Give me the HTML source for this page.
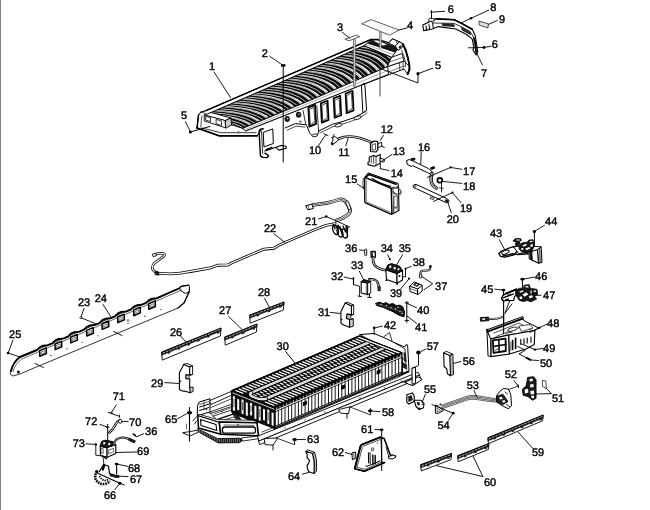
<!DOCTYPE html>
<html><head><meta charset="utf-8"><title>Battery assembly exploded view</title>
<style>
html,body{margin:0;padding:0;background:#fff;}
body{width:650px;height:510px;overflow:hidden;position:relative;}
svg{display:block;position:absolute;left:0;top:0;will-change:transform;}
svg text{font-family:"Liberation Sans",sans-serif;font-size:11px;fill:#000;text-anchor:middle;stroke:#000;stroke-width:0.4px;text-rendering:geometricPrecision;}
svg path,svg line,svg polyline{stroke-linecap:round;stroke-linejoin:round;}
</style></head><body>
<svg width="650" height="510" viewBox="0 0 650 510">
<rect x="0" y="0" width="650" height="510" fill="#fff"/>
<rect x="0" y="0" width="1" height="510" fill="#808080"/>
<!-- 10_cover.py -->
<path d="M198.5 115 L201 112 L206 110.6 L371 39.4 L377.6 39.4 L389 42.7 L392.6 38.9 L399.2 41.8 L403 44.1 L407.7 57.3 L409.6 66 L406.5 67.6 L366 83.2 L296 112 L262 129.5 L257.5 135.5 L219 135.8 L197 128 Z" fill="#fff" stroke="#000" stroke-width="1.1" />
<path d="M246 130.8 L366 83.2 L366.6 110.4 L362.4 113.4 L353 118 L342.9 121.4 L332.7 124.2 L318.8 131 L317.5 135 L312.4 135.8 L309.8 133.3 L306.4 124.8 L295.4 123.6 L285 128 L273.8 128.5 L262 129.6 Z" fill="#fff" stroke="none" stroke-width="1" />
<path d="M285 128 L295.4 123.6 L306.4 124.8 L309.8 133.3 L312.4 135.8 L317.5 135 L318.8 131 L332.7 124.2 L342.9 121.4 L353 118 L362.4 113.4 L366.6 110.4" fill="none" stroke="#000" stroke-width="1.0" />
<line x1="246" y1="130.8" x2="366" y2="83.2" stroke="#000" stroke-width="0.9" />
<path d="M363.5 77 L387.6 66.6 L404 61 L409.5 66.6 L407.7 74.2 L404 69 L366 83.2 Z" fill="#fff" stroke="#000" stroke-width="0.9" />
<line x1="366" y1="80.6" x2="405" y2="65.6" stroke="#000" stroke-width="0.5" />
<path d="M399.6 63.4 L399.8 70.4 M403 62 L403.2 69" fill="none" stroke="#000" stroke-width="0.7" />
<path d="M209.5 113.2 Q287 80 364.4 45.6 L391.7 57.3 L387.6 66.6 Q315.3 99 243 128.2 Z" fill="#0c0c0c" stroke="#000" stroke-width="0.8" />
<clipPath id="ribclip"><path d="M209.5 113.2 Q287 80 364.4 45.6 L391.7 57.3 L387.6 66.6 Q315.3 99 243 128.2 Z"/></clipPath><g clip-path="url(#ribclip)">
<path d="M186.8 122.9 Q219.8 124.4 232.7 132.4 L235.2 131.3 Q222.4 123.3 189.5 121.7 Z" fill="#fff" stroke="none" stroke-width="1" />
<path d="M188.2 122.3 Q221.1 123.8 233.9 131.8" fill="none" stroke="#333" stroke-width="0.45" />
<path d="M192.6 120.4 Q225.4 122 238.1 130.2" fill="none" stroke="#fff" stroke-width="0.75" />
<path d="M195.9 119 Q228.5 120.6 241.2 128.9 L243.7 127.9 Q231.1 119.5 198.6 117.8 Z" fill="#fff" stroke="none" stroke-width="1" />
<path d="M197.3 118.4 Q229.8 120 242.4 128.4" fill="none" stroke="#333" stroke-width="0.45" />
<path d="M201.7 116.5 Q234.1 118.2 246.6 126.7" fill="none" stroke="#fff" stroke-width="0.75" />
<path d="M205 115.1 Q237.2 116.8 249.7 125.5 L252.2 124.5 Q239.8 115.6 207.8 113.9 Z" fill="#fff" stroke="none" stroke-width="1" />
<path d="M206.4 114.5 Q238.5 116.2 251 125" fill="none" stroke="#333" stroke-width="0.45" />
<path d="M210.9 112.6 Q242.7 114.3 255.1 123.3" fill="none" stroke="#fff" stroke-width="0.75" />
<path d="M214.1 111.2 Q245.9 112.9 258.2 122 L260.7 121 Q248.5 111.8 216.9 110 Z" fill="#fff" stroke="none" stroke-width="1" />
<path d="M215.5 110.6 Q247.2 112.4 259.5 121.5" fill="none" stroke="#333" stroke-width="0.45" />
<path d="M220 108.7 Q251.4 110.5 263.6 119.8" fill="none" stroke="#fff" stroke-width="0.75" />
<path d="M223.3 107.3 Q254.5 109.1 266.7 118.5 L269.2 117.5 Q257.1 107.9 226 106.1 Z" fill="#fff" stroke="none" stroke-width="1" />
<path d="M224.6 106.7 Q255.8 108.5 268 118" fill="none" stroke="#333" stroke-width="0.45" />
<path d="M229.1 104.8 Q260.1 106.6 272.1 116.3" fill="none" stroke="#fff" stroke-width="0.75" />
<path d="M232.4 103.4 Q263.2 105.2 275.2 115 L277.7 114 Q265.8 104.1 235.1 102.2 Z" fill="#fff" stroke="none" stroke-width="1" />
<path d="M233.8 102.8 Q264.5 104.7 276.5 114.5" fill="none" stroke="#333" stroke-width="0.45" />
<path d="M238.2 100.9 Q268.8 102.8 280.6 112.8" fill="none" stroke="#fff" stroke-width="0.75" />
<path d="M241.5 99.4 Q271.9 101.4 283.7 111.5 L286.3 110.4 Q274.5 100.2 244.2 98.3 Z" fill="#fff" stroke="none" stroke-width="1" />
<path d="M242.9 98.8 Q273.2 100.8 285 111" fill="none" stroke="#333" stroke-width="0.45" />
<path d="M247.3 96.9 Q277.4 98.9 289.1 109.2" fill="none" stroke="#fff" stroke-width="0.75" />
<path d="M250.6 95.5 Q280.6 97.5 292.2 108 L294.8 106.9 Q283.2 96.3 253.3 94.3 Z" fill="#fff" stroke="none" stroke-width="1" />
<path d="M252 94.9 Q281.9 96.9 293.5 107.4" fill="none" stroke="#333" stroke-width="0.45" />
<path d="M256.4 93 Q286.1 95 297.7 105.7" fill="none" stroke="#fff" stroke-width="0.75" />
<path d="M259.7 91.6 Q289.2 93.6 300.7 104.4 L303.3 103.3 Q291.8 92.4 262.5 90.4 Z" fill="#fff" stroke="none" stroke-width="1" />
<path d="M261.1 91 Q290.5 93 302 103.8" fill="none" stroke="#333" stroke-width="0.45" />
<path d="M265.6 89 Q294.8 91.1 306.2 102.1" fill="none" stroke="#fff" stroke-width="0.75" />
<path d="M268.8 87.6 Q297.9 89.7 309.2 100.8 L311.8 99.7 Q300.5 88.5 271.6 86.4 Z" fill="#fff" stroke="none" stroke-width="1" />
<path d="M270.2 87 Q299.2 89.1 310.5 100.2" fill="none" stroke="#333" stroke-width="0.45" />
<path d="M274.7 85.1 Q303.5 87.2 314.7 98.5" fill="none" stroke="#fff" stroke-width="0.75" />
<path d="M278 83.6 Q306.6 85.8 317.7 97.2 L320.3 96.1 Q309.2 84.6 280.7 82.4 Z" fill="#fff" stroke="none" stroke-width="1" />
<path d="M279.3 83 Q307.9 85.2 319 96.6" fill="none" stroke="#333" stroke-width="0.45" />
<path d="M283.8 81.1 Q312.1 83.3 323.2 94.8" fill="none" stroke="#fff" stroke-width="0.75" />
<path d="M287.1 79.7 Q315.3 81.9 326.2 93.5 L328.8 92.4 Q317.9 80.7 289.8 78.5 Z" fill="#fff" stroke="none" stroke-width="1" />
<path d="M288.4 79.1 Q316.6 81.3 327.5 93" fill="none" stroke="#333" stroke-width="0.45" />
<path d="M292.9 77.1 Q320.8 79.4 331.7 91.2" fill="none" stroke="#fff" stroke-width="0.75" />
<path d="M296.2 75.7 Q323.9 77.9 334.7 89.9 L337.3 88.8 Q326.5 76.8 298.9 74.5 Z" fill="#fff" stroke="none" stroke-width="1" />
<path d="M297.5 75.1 Q325.2 77.4 336 89.3" fill="none" stroke="#333" stroke-width="0.45" />
<path d="M302 73.1 Q329.5 75.4 340.2 87.5" fill="none" stroke="#fff" stroke-width="0.75" />
<path d="M305.3 71.7 Q332.6 74 343.2 86.2 L345.8 85.1 Q335.2 72.8 308 70.5 Z" fill="#fff" stroke="none" stroke-width="1" />
<path d="M306.7 71.1 Q333.9 73.4 344.5 85.6" fill="none" stroke="#333" stroke-width="0.45" />
<path d="M311.1 69.1 Q338.2 71.5 348.7 83.8" fill="none" stroke="#fff" stroke-width="0.75" />
<path d="M314.4 67.7 Q341.3 70.1 351.7 82.5 L354.3 81.4 Q343.9 68.9 317.1 66.5 Z" fill="#fff" stroke="none" stroke-width="1" />
<path d="M315.8 67.1 Q342.6 69.5 353 81.9" fill="none" stroke="#333" stroke-width="0.45" />
<path d="M320.2 65.1 Q346.8 67.5 357.2 80.1" fill="none" stroke="#fff" stroke-width="0.75" />
<path d="M323.5 63.7 Q350 66.1 360.3 78.7 L362.8 77.6 Q352.6 64.9 326.2 62.5 Z" fill="#fff" stroke="none" stroke-width="1" />
<path d="M324.9 63.1 Q351.3 65.5 361.5 78.2" fill="none" stroke="#333" stroke-width="0.45" />
<path d="M329.3 61.1 Q355.5 63.6 365.7 76.3" fill="none" stroke="#fff" stroke-width="0.75" />
<path d="M332.6 59.7 Q358.6 62.1 368.8 75 L371.3 73.9 Q361.2 60.9 335.3 58.5 Z" fill="#fff" stroke="none" stroke-width="1" />
<path d="M334 59.1 Q359.9 61.5 370 74.4" fill="none" stroke="#333" stroke-width="0.45" />
<path d="M338.4 57.1 Q364.2 59.6 374.2 72.6" fill="none" stroke="#fff" stroke-width="0.75" />
<path d="M341.7 55.7 Q367.3 58.1 377.3 71.2 L379.8 70.1 Q369.9 56.9 344.5 54.4 Z" fill="#fff" stroke="none" stroke-width="1" />
<path d="M343.1 55 Q368.6 57.5 378.5 70.6" fill="none" stroke="#333" stroke-width="0.45" />
<path d="M347.6 53.1 Q372.9 55.6 382.7 68.8" fill="none" stroke="#fff" stroke-width="0.75" />
<path d="M350.8 51.6 Q376 54.1 385.8 67.4 L388.3 66.3 Q378.6 52.9 353.6 50.4 Z" fill="#fff" stroke="none" stroke-width="1" />
<path d="M352.2 51 Q377.3 53.5 387 66.8" fill="none" stroke="#333" stroke-width="0.45" />
<path d="M356.7 49 Q381.5 51.6 391.2 65" fill="none" stroke="#fff" stroke-width="0.75" />
<path d="M359.9 47.6 Q384.7 50.1 394.3 63.6 L396.8 62.5 Q387.3 48.9 362.7 46.4 Z" fill="#fff" stroke="none" stroke-width="1" />
<path d="M361.3 47 Q386 49.5 395.6 63" fill="none" stroke="#333" stroke-width="0.45" />
<path d="M365.8 45 Q390.2 47.6 399.7 61.1" fill="none" stroke="#fff" stroke-width="0.75" />
<path d="M369 43.5 Q393.3 46.1 402.8 59.8 L405.3 58.6 Q395.9 44.9 371.8 42.3 Z" fill="#fff" stroke="none" stroke-width="1" />
<path d="M370.4 42.9 Q394.6 45.5 404.1 59.2" fill="none" stroke="#333" stroke-width="0.45" />
<path d="M374.9 40.9 Q398.9 43.6 408.2 57.3" fill="none" stroke="#fff" stroke-width="0.75" />
<path d="M378.1 39.5 Q402 42.1 411.3 55.9 L413.8 54.7 Q404.6 40.9 380.9 38.3 Z" fill="#fff" stroke="none" stroke-width="1" />
<path d="M379.5 38.9 Q403.3 41.5 412.6 55.3" fill="none" stroke="#333" stroke-width="0.45" />
<path d="M384 36.9 Q407.6 39.5 416.7 53.4" fill="none" stroke="#fff" stroke-width="0.75" />
<path d="M387.3 35.4 Q410.7 38.1 419.8 52 L422.3 50.8 Q413.3 36.9 390 34.2 Z" fill="#fff" stroke="none" stroke-width="1" />
<path d="M388.6 34.8 Q412 37.5 421.1 51.4" fill="none" stroke="#333" stroke-width="0.45" />
<path d="M393.1 32.8 Q416.2 35.5 425.2 49.5" fill="none" stroke="#fff" stroke-width="0.75" />
</g>
<path d="M209.5 113.2 Q287 80 364.4 45.6 L391.7 57.3 L387.6 66.6 Q315.3 99 243 128.2 Z" fill="none" stroke="#000" stroke-width="0.8" />
<path d="M206 110.6 Q288.5 75.4 371 39.4" fill="none" stroke="#000" stroke-width="1.2" />
<path d="M391.7 57.3 L402 53.5 L404 61 L387.6 66.6 Z" fill="#fff" stroke="#000" stroke-width="0.9" />
<line x1="389.6" y1="62" x2="403" y2="57.2" stroke="#000" stroke-width="0.5" />
<path d="M371 39.6 L377.6 39.4 L398.4 48.2 L395.5 52.1 L368 43.2 Z" fill="#1a1a1a" stroke="#000" stroke-width="0.8" />
<path d="M373 40.6 L377.4 40.4 L387 44.4 L383 45.6 Z" fill="#fff" stroke="none" stroke-width="1" />
<path d="M368 43.2 L395.5 52.1 L391.7 57.3 L364.4 45.8 Z" fill="#fff" stroke="#000" stroke-width="1.0" />
<line x1="366.5" y1="44.8" x2="393.6" y2="54.8" stroke="#555" stroke-width="0.45" />
<path d="M388.9 42.7 L392.6 38.9 L399.2 41.8 L395.5 46 Z" fill="#fff" stroke="#000" stroke-width="0.9" />
<path d="M395.5 46 L399.2 41.8 L403 44.1 L402 47.9 L398.3 50.2 Z" fill="#fff" stroke="#000" stroke-width="0.9" />
<circle cx="396.6" cy="42.2" r="0.7" fill="#000" stroke="none" stroke-width="1"/>
<path d="M398.6 46.4 L401.6 45 L401.4 47.4 L398.8 48.8 Z" fill="#222" stroke="none" stroke-width="1" />
<path d="M403 44.1 Q406.4 50 407.7 57.3 Q409.6 64 409.6 69.5 L407.7 74.2" fill="none" stroke="#000" stroke-width="1.9" />
<path d="M401.6 50.4 Q404.4 56 405.4 62 L405.6 66.6" fill="none" stroke="#000" stroke-width="0.7" />
<path d="M243 128.2 Q315.3 99 387.6 66.6 L388.6 74.2 L246 130.8 Z" fill="#fff" stroke="#000" stroke-width="0.9" />
<line x1="245" y1="129.6" x2="388" y2="70.4" stroke="#444" stroke-width="0.45" />
<path d="M204.6 115 L211 112.5 L231 118 L225.4 120.6 Z" fill="#fff" stroke="#000" stroke-width="0.9" />
<path d="M204.6 115 L225.4 120.6 L226 128 L204.6 121 Z" fill="#fff" stroke="#000" stroke-width="0.9" />
<path d="M225.4 120.6 L231 118 L231.5 125 L226 128 Z" fill="#ccc" stroke="#000" stroke-width="0.9" />
<path d="M206 116.5 L210.5 117.7 L210.5 121.5 L206 120.2 Z" fill="#fff" stroke="#000" stroke-width="0.8" />
<path d="M216.5 119.5 L221.5 120.9 L221.5 125.5 L216.5 124 Z" fill="#fff" stroke="#000" stroke-width="0.8" />
<path d="M231.5 125 L243 128.3" fill="none" stroke="#000" stroke-width="0.8" />
<path d="M197 128 L219 135.8 L257.7 135.8 L262 129.6" fill="none" stroke="#000" stroke-width="1.7" />
<path d="M202 128 L220.8 132.7 L256 132.7" fill="none" stroke="#000" stroke-width="0.8" />
<line x1="198.5" y1="115" x2="197" y2="128" stroke="#000" stroke-width="1.4" />
<line x1="201.8" y1="116" x2="200.8" y2="127" stroke="#000" stroke-width="0.7" />
<path d="M201 112 L205.5 113.5" fill="none" stroke="#000" stroke-width="0.7" />
<circle cx="238.5" cy="132.3" r="0.9" fill="#fff" stroke="#000" stroke-width="0.6"/>
<path d="M287 130.2 L296 126.2 L305 127.2" fill="none" stroke="#000" stroke-width="0.7" />
<path d="M320 133 L333 126.6 L343.4 123.8 L353.6 120.4 L363.4 115.6 L367 112.6" fill="none" stroke="#000" stroke-width="0.7" />
<path d="M308.3 107.6 L315.1 104.9 L316.1 123.9 L309.3 126.6 Z" fill="#fff" stroke="#000" stroke-width="1.7" />
<path d="M309.8 109.4 L313.9 107.2 L314.9 121.9 L310.6 124.6 Z" fill="none" stroke="#000" stroke-width="0.7" />
<path d="M320.8 103.4 L327.6 100.7 L328.6 119.9 L321.8 122.6 Z" fill="#fff" stroke="#000" stroke-width="1.7" />
<path d="M322.3 105.2 L326.4 103 L327.4 117.9 L323.1 120.6 Z" fill="none" stroke="#000" stroke-width="0.7" />
<path d="M333.6 98.4 L340.2 95.8 L341.2 115.2 L334.6 117.8 Z" fill="#fff" stroke="#000" stroke-width="1.7" />
<path d="M335.1 100.2 L339 98 L340 113.2 L335.9 115.8 Z" fill="none" stroke="#000" stroke-width="0.7" />
<path d="M345.6 93.6 L352.6 90.8 L353.6 110.4 L346.6 113.2 Z" fill="#fff" stroke="#000" stroke-width="1.7" />
<path d="M347.1 95.4 L351.4 93.1 L352.4 108.4 L347.9 111.2 Z" fill="none" stroke="#000" stroke-width="0.7" />
<line x1="303" y1="110.5" x2="305.8" y2="124.5" stroke="#000" stroke-width="0.8" />
<line x1="316.8" y1="106" x2="318.6" y2="131" stroke="#000" stroke-width="0.8" />
<ellipse cx="287.2" cy="119" rx="2.7" ry="3" fill="#1a1a1a"/><ellipse cx="287.6" cy="118.6" rx="0.7" ry="0.8" fill="#ddd"/>
<ellipse cx="298.6" cy="114.7" rx="2.7" ry="3" fill="#1a1a1a"/><ellipse cx="299" cy="114.3" rx="0.7" ry="0.8" fill="#ddd"/>
<circle cx="300.4" cy="121.6" r="0.8" fill="#fff" stroke="#000" stroke-width="0.6"/>
<path d="M361.8 85.2 L364.8 84 L366.6 110.4 L363.2 112.6 Z" fill="#fff" stroke="#000" stroke-width="1.0" />
<circle cx="364" cy="83.8" r="1.1" fill="#000" stroke="none" stroke-width="1"/>
<ellipse cx="338.6" cy="125.2" rx="3.6" ry="1.5" fill="#fff" stroke="#000" stroke-width="0.8" transform="rotate(-14 338.6 125.2)"/>
<ellipse cx="314.8" cy="135.4" rx="2.8" ry="1.3" fill="#fff" stroke="#000" stroke-width="0.8" transform="rotate(-8 314.8 135.4)"/>
<ellipse cx="357.6" cy="117.8" rx="3.8" ry="1.5" fill="#fff" stroke="#000" stroke-width="0.8" transform="rotate(-18 357.6 117.8)"/>
<path d="M257.7 135.8 L260 155 L262 157.5 L266.5 158 L268.5 155.4 L264.8 151 L276 147.3 L278.9 150.1 L286.4 148.2 L285.4 129 L262 129.6 Z" fill="#fff" stroke="none" stroke-width="1" />
<path d="M263.2 128.8 Q259.6 128.8 259.1 131.4 L260.4 155.6 L262.6 157.4 L267.1 157.6 L268.6 155.5 L264.9 153.2" fill="none" stroke="#000" stroke-width="1.4" />
<path d="M261.5 131.4 L262.7 153.6" fill="none" stroke="#000" stroke-width="0.8" />
<path d="M264.8 151 L276 147.3 L278.9 150.1 L286.4 148.2 L286 146.2 L281 145.4 L276 147.3" fill="none" stroke="#000" stroke-width="1.1" />
<path d="M263.6 132.3 L272.8 128.9 L273.3 143.5 L264.3 146.8 Z" fill="#fff" stroke="#000" stroke-width="1.0" />
<path d="M266.2 150 L268.4 148.6 M269.4 148.9 L271.8 147.4" fill="none" stroke="#000" stroke-width="1.6" />
<!-- 29_tray.py -->
<path d="M197.7 405 L199.2 402 L210 398.8 L210 412 L197.7 415.5 Z" fill="#fff" stroke="#000" stroke-width="1.0" />
<line x1="199.5" y1="404.5" x2="208.5" y2="401.8" stroke="#000" stroke-width="0.6" />
<line x1="204" y1="401" x2="204" y2="410" stroke="#000" stroke-width="0.6" />
<path d="M210 400.5 L231 391.5 L232 395 L211 404.5 Z" fill="#fff" stroke="#000" stroke-width="0.9" />
<line x1="211" y1="407.5" x2="232" y2="398.5" stroke="#000" stroke-width="0.7" />
<path d="M210 412 L232 404 L232 413 L258 423 L219 422.2 Z" fill="#fff" stroke="#000" stroke-width="0.8" />
<line x1="214" y1="414" x2="232" y2="407.5" stroke="#000" stroke-width="0.6" />
<path d="M210 413.6 L232.3 406.2 M213 416.2 L233 409.6" fill="none" stroke="#000" stroke-width="0.8" />
<path d="M217.5 419.4 L236 413.2 L246 417.4" fill="none" stroke="#000" stroke-width="1.3" />
<path d="M222 420.6 L238.5 415.6 L252 421" fill="none" stroke="#000" stroke-width="0.7" />
<path d="M232.4 412.6 L238 415 L241 419.6 L236 419.4 Z" fill="#222" stroke="#000" stroke-width="0.6" />
<path d="M246 417.6 L252 420 L256 422.4 L249 422 Z" fill="#222" stroke="#000" stroke-width="0.6" />
<path d="M199.6 407 L208.6 404.2 M199.6 410.5 L208.6 407.6" fill="none" stroke="#000" stroke-width="1.0" />
<circle cx="206.5" cy="409.5" r="0.7" fill="#000" stroke="none" stroke-width="1"/>
<circle cx="222" cy="411.5" r="0.7" fill="#000" stroke="none" stroke-width="1"/>
<circle cx="226.5" cy="416.5" r="0.7" fill="#000" stroke="none" stroke-width="1"/>
<path d="M197.7 415.2 L219.2 422 L220.8 434.2 L198.5 428 Z" fill="#fff" stroke="#000" stroke-width="1.5" />
<path d="M200.5 419.5 L216 424.6 L216.8 430.5 L201 425.5 Z" fill="none" stroke="#000" stroke-width="1.1" />
<path d="M197.7 415.2 L200 414.5 L217.5 419.6 L256 420.3 L257 422.7 L219.2 422 Z" fill="#fff" stroke="#000" stroke-width="0.8" />
<path d="M219.2 422 L257 422.7 L258.5 435.8 L220.8 434.2 Z" fill="#fff" stroke="#000" stroke-width="1.6" />
<rect x="222.5" y="427" width="33" height="6.2" rx="2.2" fill="#fff" stroke="#000" stroke-width="1.3"/>
<line x1="224" y1="425" x2="254" y2="425.4" stroke="#000" stroke-width="0.6" />
<circle cx="238" cy="424.8" r="0.7" fill="#000" stroke="none" stroke-width="1"/>
<path d="M197.7 428.8 L217.7 438.6 L240 438.2 L242.3 440 L240 442.7 L218.3 442.9 L199.2 432.4 Z" fill="#1a1a1a" stroke="#000" stroke-width="0.8" />
<line x1="199.5" y1="429.4" x2="199.5" y2="432.2" stroke="#bbb" stroke-width="0.5" />
<line x1="201.2" y1="430.3" x2="201.2" y2="433.1" stroke="#bbb" stroke-width="0.5" />
<line x1="202.8" y1="431.1" x2="202.8" y2="433.9" stroke="#bbb" stroke-width="0.5" />
<line x1="204.5" y1="432" x2="204.5" y2="434.8" stroke="#bbb" stroke-width="0.5" />
<line x1="206.2" y1="432.8" x2="206.2" y2="435.6" stroke="#bbb" stroke-width="0.5" />
<line x1="207.8" y1="433.7" x2="207.8" y2="436.5" stroke="#bbb" stroke-width="0.5" />
<line x1="209.5" y1="434.5" x2="209.5" y2="437.3" stroke="#bbb" stroke-width="0.5" />
<line x1="211.1" y1="435.4" x2="211.1" y2="438.2" stroke="#bbb" stroke-width="0.5" />
<line x1="212.8" y1="436.2" x2="212.8" y2="439" stroke="#bbb" stroke-width="0.5" />
<line x1="214.5" y1="437.1" x2="214.5" y2="439.9" stroke="#bbb" stroke-width="0.5" />
<line x1="216.1" y1="437.9" x2="216.1" y2="440.7" stroke="#bbb" stroke-width="0.5" />
<line x1="217.8" y1="438.8" x2="217.8" y2="441.6" stroke="#bbb" stroke-width="0.5" />
<line x1="219.5" y1="439.4" x2="219.5" y2="442" stroke="#bbb" stroke-width="0.5" />
<line x1="221.5" y1="439.4" x2="221.5" y2="442" stroke="#bbb" stroke-width="0.5" />
<line x1="223.5" y1="439.4" x2="223.5" y2="442" stroke="#bbb" stroke-width="0.5" />
<line x1="225.5" y1="439.4" x2="225.5" y2="442" stroke="#bbb" stroke-width="0.5" />
<line x1="227.5" y1="439.4" x2="227.5" y2="442" stroke="#bbb" stroke-width="0.5" />
<line x1="229.5" y1="439.4" x2="229.5" y2="442" stroke="#bbb" stroke-width="0.5" />
<line x1="231.5" y1="439.4" x2="231.5" y2="442" stroke="#bbb" stroke-width="0.5" />
<line x1="233.5" y1="439.4" x2="233.5" y2="442" stroke="#bbb" stroke-width="0.5" />
<line x1="235.5" y1="439.4" x2="235.5" y2="442" stroke="#bbb" stroke-width="0.5" />
<line x1="237.5" y1="439.4" x2="237.5" y2="442" stroke="#bbb" stroke-width="0.5" />
<line x1="239.5" y1="439.4" x2="239.5" y2="442" stroke="#bbb" stroke-width="0.5" />
<path d="M241.5 438 L258.5 436 L260 438.5 L243 441 Z" fill="#fff" stroke="#000" stroke-width="0.8" />
<path d="M183 432.7 L197 430.3 L198.5 432 L190.5 435.8 Z" fill="#fff" stroke="#000" stroke-width="0.9" />
<line x1="189.5" y1="407.5" x2="189.5" y2="441" stroke="#000" stroke-width="1.1" />
<ellipse cx="189.5" cy="412.8" rx="2.7" ry="1.7" fill="#000"/>
<line x1="177.5" y1="418.8" x2="186.5" y2="413.8" stroke="#000" stroke-width="0.9" />
<line x1="186.5" y1="424" x2="186.5" y2="429" stroke="#000" stroke-width="0.6" />
<path d="M193 421 Q195.5 416.5 198 416 M194.5 424 Q196.5 420 198.5 419.5" fill="none" stroke="#000" stroke-width="0.8" />
<path d="M258 436 L418 372.2 L419.5 375 L259 441 Z" fill="#fff" stroke="#000" stroke-width="0.9" />
<path d="M259 441 L419.5 375 L420.5 378 L260 444.5 Z" fill="#fff" stroke="#000" stroke-width="0.9" />
<line x1="262" y1="432" x2="400" y2="376.5" stroke="#000" stroke-width="0.7" />
<circle cx="285" cy="427.8" r="0.6" fill="#000" stroke="none" stroke-width="1"/>
<circle cx="305" cy="419.8" r="0.6" fill="#000" stroke="none" stroke-width="1"/>
<circle cx="325" cy="411.9" r="0.6" fill="#000" stroke="none" stroke-width="1"/>
<circle cx="360" cy="397.9" r="0.6" fill="#000" stroke="none" stroke-width="1"/>
<circle cx="385" cy="387.9" r="0.6" fill="#000" stroke="none" stroke-width="1"/>
<path d="M264.6 438.5 L277.7 438 L273 445.2 L265.4 444.6 Z" fill="#fff" stroke="#000" stroke-width="0.9" />
<line x1="273" y1="445" x2="273" y2="450" stroke="#000" stroke-width="0.9" />
<path d="M339 409.5 L350 406.8 L348.5 413.8 L340.8 413.2 Z" fill="#fff" stroke="#000" stroke-width="0.9" />
<line x1="347" y1="413.5" x2="347" y2="418.5" stroke="#000" stroke-width="0.9" />
<line x1="277.7" y1="438.5" x2="294" y2="444.5" stroke="#000" stroke-width="0.8" />
<line x1="294.6" y1="438.5" x2="294.6" y2="444.5" stroke="#000" stroke-width="0.9" />
<ellipse cx="294.6" cy="439.6" rx="2.4" ry="1.5" fill="#000"/>
<line x1="297.5" y1="439.6" x2="305.5" y2="439.4" stroke="#000" stroke-width="0.9" />
<line x1="350" y1="407" x2="369.5" y2="414.5" stroke="#000" stroke-width="0.8" />
<line x1="370.3" y1="408.5" x2="370.3" y2="415" stroke="#000" stroke-width="0.9" />
<ellipse cx="370.3" cy="410.8" rx="2.4" ry="1.5" fill="#000"/>
<line x1="373" y1="411.2" x2="380" y2="411.6" stroke="#000" stroke-width="0.9" />
<path d="M360 334.6 L373.8 333.4 L386 338.5 L393 342 L404.6 347 L406 344.6 L407.6 345 L409 370.8 L401 374 L399 356 Z" fill="#fff" stroke="#000" stroke-width="1.0" />
<path d="M384 336.5 L389.5 332.5 L392 341 M395 343 L405 349 L406 366" fill="none" stroke="#000" stroke-width="0.8" />
<path d="M400 357 L406.5 361 M402 366 L407 369.5" fill="none" stroke="#000" stroke-width="0.7" />
<path d="M403.5 352 L406 353 L406.5 362 L404 361.5 Z" fill="#222" stroke="none" stroke-width="1" />
<path d="M401.6 357.5 L402.4 373" fill="none" stroke="#000" stroke-width="1.5" />
<path d="M402.6 362.5 L406.6 364.8 L406.8 369 L403 367 Z" fill="#222" stroke="#000" stroke-width="0.5" />
<path d="M400.6 375 L408.6 371.4" fill="none" stroke="#000" stroke-width="1.2" />
<path d="M405.5 381.8 L418.5 376.9 L422.2 379.4 L412.9 385.6 L409 384.4 Z" fill="#fff" stroke="#000" stroke-width="1.0" />
<path d="M412.3 368 L415.4 367 L415.6 383 L412.5 384.3 Z" fill="#fff" stroke="#000" stroke-width="1.0" />
<line x1="399" y1="376.5" x2="409" y2="372" stroke="#000" stroke-width="0.8" />
<line x1="401" y1="381" x2="407" y2="383.5" stroke="#000" stroke-width="0.8" />
<ellipse cx="418.5" cy="352.6" rx="2.3" ry="2" fill="#000"/>
<path d="M418.5 354 L418.5 365.5 L412.5 368.3" fill="none" stroke="#000" stroke-width="0.9" />
<line x1="421.3" y1="351.3" x2="426" y2="349" stroke="#000" stroke-width="0.9" />
<circle cx="374.2" cy="328" r="1.4" fill="#000" stroke="none" stroke-width="1"/>
<line x1="374.2" y1="328" x2="374.2" y2="334.6" stroke="#000" stroke-width="0.9" />
<line x1="375.8" y1="327.6" x2="382.3" y2="326.2" stroke="#000" stroke-width="0.9" />
<!-- 30_battery.py -->
<path d="M275 407.3 L402 352.8 L402 374.3 L275 428.8 Z" fill="#fff" stroke="#000" stroke-width="1.0" />
<path d="M275 407.3 L402 352.8 L402 355.8 L275 410.3 Z" fill="#0d0d0d" stroke="none" stroke-width="1" />
<line x1="275" y1="411.9" x2="275" y2="426.3" stroke="#000" stroke-width="0.9" />
<line x1="278.3" y1="410.5" x2="278.3" y2="424.9" stroke="#000" stroke-width="0.9" />
<line x1="281.7" y1="409" x2="281.7" y2="423.4" stroke="#000" stroke-width="0.9" />
<line x1="285" y1="407.6" x2="285" y2="422" stroke="#000" stroke-width="0.9" />
<line x1="288.4" y1="406.2" x2="288.4" y2="420.6" stroke="#000" stroke-width="0.9" />
<line x1="291.7" y1="404.7" x2="291.7" y2="419.1" stroke="#000" stroke-width="0.9" />
<line x1="295.1" y1="403.3" x2="295.1" y2="417.7" stroke="#000" stroke-width="0.9" />
<line x1="298.4" y1="401.9" x2="298.4" y2="416.3" stroke="#000" stroke-width="0.9" />
<line x1="301.7" y1="400.4" x2="301.7" y2="414.8" stroke="#000" stroke-width="0.9" />
<line x1="305.1" y1="399" x2="305.1" y2="413.4" stroke="#000" stroke-width="0.9" />
<line x1="308.4" y1="397.6" x2="308.4" y2="412" stroke="#000" stroke-width="0.9" />
<line x1="311.8" y1="396.1" x2="311.8" y2="410.5" stroke="#000" stroke-width="0.9" />
<line x1="315.1" y1="394.7" x2="315.1" y2="409.1" stroke="#000" stroke-width="0.9" />
<line x1="318.4" y1="393.3" x2="318.4" y2="407.7" stroke="#000" stroke-width="0.9" />
<line x1="321.8" y1="391.8" x2="321.8" y2="406.2" stroke="#000" stroke-width="0.9" />
<line x1="325.1" y1="390.4" x2="325.1" y2="404.8" stroke="#000" stroke-width="0.9" />
<line x1="328.5" y1="389" x2="328.5" y2="403.4" stroke="#000" stroke-width="0.9" />
<line x1="331.8" y1="387.5" x2="331.8" y2="401.9" stroke="#000" stroke-width="0.9" />
<line x1="335.2" y1="386.1" x2="335.2" y2="400.5" stroke="#000" stroke-width="0.9" />
<line x1="338.5" y1="384.7" x2="338.5" y2="399.1" stroke="#000" stroke-width="0.9" />
<line x1="341.8" y1="383.2" x2="341.8" y2="397.6" stroke="#000" stroke-width="0.9" />
<line x1="345.2" y1="381.8" x2="345.2" y2="396.2" stroke="#000" stroke-width="0.9" />
<line x1="348.5" y1="380.3" x2="348.5" y2="394.7" stroke="#000" stroke-width="0.9" />
<line x1="351.9" y1="378.9" x2="351.9" y2="393.3" stroke="#000" stroke-width="0.9" />
<line x1="355.2" y1="377.5" x2="355.2" y2="391.9" stroke="#000" stroke-width="0.9" />
<line x1="358.6" y1="376" x2="358.6" y2="390.4" stroke="#000" stroke-width="0.9" />
<line x1="361.9" y1="374.6" x2="361.9" y2="389" stroke="#000" stroke-width="0.9" />
<line x1="365.2" y1="373.2" x2="365.2" y2="387.6" stroke="#000" stroke-width="0.9" />
<line x1="368.6" y1="371.7" x2="368.6" y2="386.1" stroke="#000" stroke-width="0.9" />
<line x1="371.9" y1="370.3" x2="371.9" y2="384.7" stroke="#000" stroke-width="0.9" />
<line x1="375.3" y1="368.9" x2="375.3" y2="383.3" stroke="#000" stroke-width="0.9" />
<line x1="378.6" y1="367.4" x2="378.6" y2="381.8" stroke="#000" stroke-width="0.9" />
<line x1="381.9" y1="366" x2="381.9" y2="380.4" stroke="#000" stroke-width="0.9" />
<line x1="385.3" y1="364.6" x2="385.3" y2="379" stroke="#000" stroke-width="0.9" />
<line x1="388.6" y1="363.1" x2="388.6" y2="377.5" stroke="#000" stroke-width="0.9" />
<line x1="392" y1="361.7" x2="392" y2="376.1" stroke="#000" stroke-width="0.9" />
<line x1="395.3" y1="360.3" x2="395.3" y2="374.7" stroke="#000" stroke-width="0.9" />
<line x1="398.7" y1="358.8" x2="398.7" y2="373.2" stroke="#000" stroke-width="0.9" />
<line x1="402" y1="357.4" x2="402" y2="371.8" stroke="#000" stroke-width="0.9" />
<line x1="276.7" y1="407.5" x2="276.7" y2="408.9" stroke="#fff" stroke-width="0.7" />
<line x1="280" y1="406" x2="280" y2="407.4" stroke="#fff" stroke-width="0.7" />
<line x1="283.4" y1="404.6" x2="283.4" y2="406" stroke="#fff" stroke-width="0.7" />
<line x1="286.7" y1="403.2" x2="286.7" y2="404.6" stroke="#fff" stroke-width="0.7" />
<line x1="290" y1="401.7" x2="290" y2="403.1" stroke="#fff" stroke-width="0.7" />
<line x1="293.4" y1="400.3" x2="293.4" y2="401.7" stroke="#fff" stroke-width="0.7" />
<line x1="296.7" y1="398.9" x2="296.7" y2="400.3" stroke="#fff" stroke-width="0.7" />
<line x1="300.1" y1="397.4" x2="300.1" y2="398.8" stroke="#fff" stroke-width="0.7" />
<line x1="303.4" y1="396" x2="303.4" y2="397.4" stroke="#fff" stroke-width="0.7" />
<line x1="306.8" y1="394.6" x2="306.8" y2="396" stroke="#fff" stroke-width="0.7" />
<line x1="310.1" y1="393.1" x2="310.1" y2="394.5" stroke="#fff" stroke-width="0.7" />
<line x1="313.4" y1="391.7" x2="313.4" y2="393.1" stroke="#fff" stroke-width="0.7" />
<line x1="316.8" y1="390.3" x2="316.8" y2="391.7" stroke="#fff" stroke-width="0.7" />
<line x1="320.1" y1="388.8" x2="320.1" y2="390.2" stroke="#fff" stroke-width="0.7" />
<line x1="323.5" y1="387.4" x2="323.5" y2="388.8" stroke="#fff" stroke-width="0.7" />
<line x1="326.8" y1="386" x2="326.8" y2="387.4" stroke="#fff" stroke-width="0.7" />
<line x1="330.1" y1="384.5" x2="330.1" y2="385.9" stroke="#fff" stroke-width="0.7" />
<line x1="333.5" y1="383.1" x2="333.5" y2="384.5" stroke="#fff" stroke-width="0.7" />
<line x1="336.8" y1="381.7" x2="336.8" y2="383.1" stroke="#fff" stroke-width="0.7" />
<line x1="340.2" y1="380.2" x2="340.2" y2="381.6" stroke="#fff" stroke-width="0.7" />
<line x1="343.5" y1="378.8" x2="343.5" y2="380.2" stroke="#fff" stroke-width="0.7" />
<line x1="346.9" y1="377.4" x2="346.9" y2="378.8" stroke="#fff" stroke-width="0.7" />
<line x1="350.2" y1="375.9" x2="350.2" y2="377.3" stroke="#fff" stroke-width="0.7" />
<line x1="353.5" y1="374.5" x2="353.5" y2="375.9" stroke="#fff" stroke-width="0.7" />
<line x1="356.9" y1="373.1" x2="356.9" y2="374.5" stroke="#fff" stroke-width="0.7" />
<line x1="360.2" y1="371.6" x2="360.2" y2="373" stroke="#fff" stroke-width="0.7" />
<line x1="363.6" y1="370.2" x2="363.6" y2="371.6" stroke="#fff" stroke-width="0.7" />
<line x1="366.9" y1="368.8" x2="366.9" y2="370.2" stroke="#fff" stroke-width="0.7" />
<line x1="370.2" y1="367.3" x2="370.2" y2="368.7" stroke="#fff" stroke-width="0.7" />
<line x1="373.6" y1="365.9" x2="373.6" y2="367.3" stroke="#fff" stroke-width="0.7" />
<line x1="376.9" y1="364.5" x2="376.9" y2="365.9" stroke="#fff" stroke-width="0.7" />
<line x1="380.3" y1="363" x2="380.3" y2="364.4" stroke="#fff" stroke-width="0.7" />
<line x1="383.6" y1="361.6" x2="383.6" y2="363" stroke="#fff" stroke-width="0.7" />
<line x1="387" y1="360.2" x2="387" y2="361.6" stroke="#fff" stroke-width="0.7" />
<line x1="390.3" y1="358.7" x2="390.3" y2="360.1" stroke="#fff" stroke-width="0.7" />
<line x1="393.6" y1="357.3" x2="393.6" y2="358.7" stroke="#fff" stroke-width="0.7" />
<line x1="397" y1="355.9" x2="397" y2="357.3" stroke="#fff" stroke-width="0.7" />
<line x1="400.3" y1="354.4" x2="400.3" y2="355.8" stroke="#fff" stroke-width="0.7" />
<line x1="275" y1="411.8" x2="402" y2="357.3" stroke="#000" stroke-width="0.8" />
<line x1="275" y1="426.3" x2="402" y2="371.8" stroke="#000" stroke-width="0.9" />
<line x1="275" y1="427.8" x2="402" y2="373.3" stroke="#000" stroke-width="1.2" />
<path d="M302.9 402.3 L306.9 400.6 L306.9 404.6 L302.9 406.3 Z" fill="#000" stroke="none" stroke-width="1" />
<path d="M341 386 L345 384.3 L345 388.3 L341 390 Z" fill="#000" stroke="none" stroke-width="1" />
<path d="M376.6 370.7 L380.6 369 L380.6 373 L376.6 374.7 Z" fill="#000" stroke="none" stroke-width="1" />
<path d="M232 390.5 L275 407.3 L275 428.8 L232 412 Z" fill="#0d0d0d" stroke="#000" stroke-width="1.0" />
<line x1="232.9" y1="393" x2="274.1" y2="409.2" stroke="#fff" stroke-width="0.8" />
<path d="M232.9 395.9 L234.9 396.6 L234.9 410.9 L232.9 410.2 Z" fill="#fff" stroke="none" stroke-width="1" />
<line x1="233.9" y1="399.3" x2="233.9" y2="406.6" stroke="#000" stroke-width="0.6" />
<path d="M237.2 398.7 L239.2 399.5 L239.2 410.6 L237.2 409.8 Z" fill="#fff" stroke="none" stroke-width="1" />
<path d="M241.5 399.2 L243.5 400 L243.5 414.3 L241.5 413.5 Z" fill="#fff" stroke="none" stroke-width="1" />
<line x1="242.5" y1="402.6" x2="242.5" y2="409.9" stroke="#000" stroke-width="0.6" />
<path d="M245.8 402.1 L247.8 402.9 L247.8 416 L245.8 415.2 Z" fill="#fff" stroke="none" stroke-width="1" />
<path d="M250.1 402.6 L252.1 403.4 L252.1 415.7 L250.1 414.9 Z" fill="#fff" stroke="none" stroke-width="1" />
<line x1="251.1" y1="406" x2="251.1" y2="411.3" stroke="#000" stroke-width="0.6" />
<path d="M254.4 405.5 L256.4 406.2 L256.4 419.3 L254.4 418.6 Z" fill="#fff" stroke="none" stroke-width="1" />
<path d="M258.7 405.9 L260.7 406.7 L260.7 421 L258.7 420.2 Z" fill="#fff" stroke="none" stroke-width="1" />
<line x1="259.7" y1="409.3" x2="259.7" y2="416.6" stroke="#000" stroke-width="0.6" />
<path d="M263 408.8 L265 409.6 L265 420.7 L263 419.9 Z" fill="#fff" stroke="none" stroke-width="1" />
<path d="M267.3 409.3 L269.3 410.1 L269.3 424.4 L267.3 423.6 Z" fill="#fff" stroke="none" stroke-width="1" />
<line x1="268.3" y1="412.7" x2="268.3" y2="420" stroke="#000" stroke-width="0.6" />
<path d="M271.6 412.2 L273.6 413 L273.6 426.1 L271.6 425.3 Z" fill="#fff" stroke="none" stroke-width="1" />
<path d="M232 390.5 L359 336 L402 352.8 L275 407.3 Z" fill="#0d0d0d" stroke="#000" stroke-width="1.0" />
<line x1="235.8" y1="390.6" x2="242.9" y2="393.4" stroke="#fff" stroke-width="1.25" />
<line x1="239.2" y1="389.2" x2="246.3" y2="392" stroke="#fff" stroke-width="1.25" />
<line x1="242.5" y1="387.8" x2="249.6" y2="390.5" stroke="#fff" stroke-width="1.25" />
<line x1="245.8" y1="386.3" x2="252.9" y2="389.1" stroke="#fff" stroke-width="1.25" />
<line x1="249.2" y1="384.9" x2="256.3" y2="387.7" stroke="#fff" stroke-width="1.25" />
<line x1="252.5" y1="383.5" x2="259.6" y2="386.2" stroke="#fff" stroke-width="1.25" />
<line x1="255.9" y1="382" x2="263" y2="384.8" stroke="#fff" stroke-width="1.25" />
<line x1="259.2" y1="380.6" x2="266.3" y2="383.4" stroke="#fff" stroke-width="1.25" />
<line x1="262.6" y1="379.1" x2="269.7" y2="381.9" stroke="#fff" stroke-width="1.25" />
<line x1="265.9" y1="377.7" x2="273" y2="380.5" stroke="#fff" stroke-width="1.25" />
<line x1="269.2" y1="376.3" x2="276.3" y2="379.1" stroke="#fff" stroke-width="1.25" />
<line x1="272.6" y1="374.8" x2="279.7" y2="377.6" stroke="#fff" stroke-width="1.25" />
<line x1="275.9" y1="373.4" x2="283" y2="376.2" stroke="#fff" stroke-width="1.25" />
<line x1="279.3" y1="372" x2="286.4" y2="374.8" stroke="#fff" stroke-width="1.25" />
<line x1="282.6" y1="370.5" x2="289.7" y2="373.3" stroke="#fff" stroke-width="1.25" />
<line x1="286" y1="369.1" x2="293" y2="371.9" stroke="#fff" stroke-width="1.25" />
<line x1="289.3" y1="367.7" x2="296.4" y2="370.4" stroke="#fff" stroke-width="1.25" />
<line x1="292.6" y1="366.2" x2="299.7" y2="369" stroke="#fff" stroke-width="1.25" />
<line x1="296" y1="364.8" x2="303.1" y2="367.6" stroke="#fff" stroke-width="1.25" />
<line x1="299.3" y1="363.4" x2="306.4" y2="366.1" stroke="#fff" stroke-width="1.25" />
<line x1="302.7" y1="361.9" x2="309.8" y2="364.7" stroke="#fff" stroke-width="1.25" />
<line x1="306" y1="360.5" x2="313.1" y2="363.3" stroke="#fff" stroke-width="1.25" />
<line x1="309.3" y1="359.1" x2="316.4" y2="361.8" stroke="#fff" stroke-width="1.25" />
<line x1="312.7" y1="357.6" x2="319.8" y2="360.4" stroke="#fff" stroke-width="1.25" />
<line x1="316" y1="356.2" x2="323.1" y2="359" stroke="#fff" stroke-width="1.25" />
<line x1="319.4" y1="354.8" x2="326.5" y2="357.5" stroke="#fff" stroke-width="1.25" />
<line x1="322.7" y1="353.3" x2="329.8" y2="356.1" stroke="#fff" stroke-width="1.25" />
<line x1="326.1" y1="351.9" x2="333.2" y2="354.7" stroke="#fff" stroke-width="1.25" />
<line x1="329.4" y1="350.5" x2="336.5" y2="353.2" stroke="#fff" stroke-width="1.25" />
<line x1="332.7" y1="349" x2="339.8" y2="351.8" stroke="#fff" stroke-width="1.25" />
<line x1="336.1" y1="347.6" x2="343.2" y2="350.4" stroke="#fff" stroke-width="1.25" />
<line x1="339.4" y1="346.2" x2="346.5" y2="348.9" stroke="#fff" stroke-width="1.25" />
<line x1="342.8" y1="344.7" x2="349.9" y2="347.5" stroke="#fff" stroke-width="1.25" />
<line x1="346.1" y1="343.3" x2="353.2" y2="346.1" stroke="#fff" stroke-width="1.25" />
<line x1="349.5" y1="341.9" x2="356.5" y2="344.6" stroke="#fff" stroke-width="1.25" />
<line x1="352.8" y1="340.4" x2="359.9" y2="343.2" stroke="#fff" stroke-width="1.25" />
<line x1="356.1" y1="339" x2="363.2" y2="341.8" stroke="#fff" stroke-width="1.25" />
<line x1="359.5" y1="337.6" x2="366.6" y2="340.3" stroke="#fff" stroke-width="1.25" />
<line x1="250.2" y1="396.3" x2="253" y2="397.3" stroke="#fff" stroke-width="1.2" />
<line x1="253.6" y1="394.8" x2="256.4" y2="395.9" stroke="#fff" stroke-width="1.2" />
<line x1="256.9" y1="393.4" x2="259.7" y2="394.5" stroke="#fff" stroke-width="1.2" />
<line x1="260.3" y1="391.9" x2="263" y2="393" stroke="#fff" stroke-width="1.2" />
<line x1="263.6" y1="390.5" x2="266.4" y2="391.6" stroke="#fff" stroke-width="1.2" />
<line x1="266.9" y1="389.1" x2="269.7" y2="390.2" stroke="#fff" stroke-width="1.2" />
<line x1="270.3" y1="387.6" x2="273.1" y2="388.7" stroke="#fff" stroke-width="1.2" />
<line x1="273.6" y1="386.2" x2="276.4" y2="387.3" stroke="#fff" stroke-width="1.2" />
<line x1="277" y1="384.8" x2="279.8" y2="385.9" stroke="#fff" stroke-width="1.2" />
<line x1="280.3" y1="383.3" x2="283.1" y2="384.4" stroke="#fff" stroke-width="1.2" />
<line x1="283.6" y1="381.9" x2="286.4" y2="383" stroke="#fff" stroke-width="1.2" />
<line x1="287" y1="380.5" x2="289.8" y2="381.6" stroke="#fff" stroke-width="1.2" />
<line x1="290.3" y1="379" x2="293.1" y2="380.1" stroke="#fff" stroke-width="1.2" />
<line x1="293.7" y1="377.6" x2="296.5" y2="378.7" stroke="#fff" stroke-width="1.2" />
<line x1="297" y1="376.2" x2="299.8" y2="377.3" stroke="#fff" stroke-width="1.2" />
<line x1="300.4" y1="374.7" x2="303.2" y2="375.8" stroke="#fff" stroke-width="1.2" />
<line x1="303.7" y1="373.3" x2="306.5" y2="374.4" stroke="#fff" stroke-width="1.2" />
<line x1="307" y1="371.9" x2="309.8" y2="373" stroke="#fff" stroke-width="1.2" />
<line x1="310.4" y1="370.4" x2="313.2" y2="371.5" stroke="#fff" stroke-width="1.2" />
<line x1="313.7" y1="369" x2="316.5" y2="370.1" stroke="#fff" stroke-width="1.2" />
<line x1="317.1" y1="367.6" x2="319.9" y2="368.7" stroke="#fff" stroke-width="1.2" />
<line x1="320.4" y1="366.1" x2="323.2" y2="367.2" stroke="#fff" stroke-width="1.2" />
<line x1="323.8" y1="364.7" x2="326.5" y2="365.8" stroke="#fff" stroke-width="1.2" />
<line x1="327.1" y1="363.3" x2="329.9" y2="364.4" stroke="#fff" stroke-width="1.2" />
<line x1="330.4" y1="361.8" x2="333.2" y2="362.9" stroke="#fff" stroke-width="1.2" />
<line x1="333.8" y1="360.4" x2="336.6" y2="361.5" stroke="#fff" stroke-width="1.2" />
<line x1="337.1" y1="359" x2="339.9" y2="360.1" stroke="#fff" stroke-width="1.2" />
<line x1="340.5" y1="357.5" x2="343.3" y2="358.6" stroke="#fff" stroke-width="1.2" />
<line x1="343.8" y1="356.1" x2="346.6" y2="357.2" stroke="#fff" stroke-width="1.2" />
<line x1="347.1" y1="354.7" x2="349.9" y2="355.8" stroke="#fff" stroke-width="1.2" />
<line x1="350.5" y1="353.2" x2="353.3" y2="354.3" stroke="#fff" stroke-width="1.2" />
<line x1="353.8" y1="351.8" x2="356.6" y2="352.9" stroke="#fff" stroke-width="1.2" />
<line x1="357.2" y1="350.4" x2="360" y2="351.4" stroke="#fff" stroke-width="1.2" />
<line x1="360.5" y1="348.9" x2="363.3" y2="350" stroke="#fff" stroke-width="1.2" />
<line x1="363.9" y1="347.5" x2="366.7" y2="348.6" stroke="#fff" stroke-width="1.2" />
<line x1="367.2" y1="346.1" x2="370" y2="347.1" stroke="#fff" stroke-width="1.2" />
<line x1="370.5" y1="344.6" x2="373.3" y2="345.7" stroke="#fff" stroke-width="1.2" />
<line x1="373.9" y1="343.2" x2="376.7" y2="344.3" stroke="#fff" stroke-width="1.2" />
<line x1="256.8" y1="397.5" x2="259.6" y2="398.6" stroke="#fff" stroke-width="1.2" />
<line x1="260.2" y1="396" x2="263" y2="397.1" stroke="#fff" stroke-width="1.2" />
<line x1="263.5" y1="394.6" x2="266.3" y2="395.7" stroke="#fff" stroke-width="1.2" />
<line x1="266.9" y1="393.2" x2="269.7" y2="394.3" stroke="#fff" stroke-width="1.2" />
<line x1="270.2" y1="391.7" x2="273" y2="392.8" stroke="#fff" stroke-width="1.2" />
<line x1="273.6" y1="390.3" x2="276.3" y2="391.4" stroke="#fff" stroke-width="1.2" />
<line x1="276.9" y1="388.9" x2="279.7" y2="390" stroke="#fff" stroke-width="1.2" />
<line x1="280.2" y1="387.4" x2="283" y2="388.5" stroke="#fff" stroke-width="1.2" />
<line x1="283.6" y1="386" x2="286.4" y2="387.1" stroke="#fff" stroke-width="1.2" />
<line x1="286.9" y1="384.6" x2="289.7" y2="385.6" stroke="#fff" stroke-width="1.2" />
<line x1="290.3" y1="383.1" x2="293.1" y2="384.2" stroke="#fff" stroke-width="1.2" />
<line x1="293.6" y1="381.7" x2="296.4" y2="382.8" stroke="#fff" stroke-width="1.2" />
<line x1="296.9" y1="380.3" x2="299.7" y2="381.3" stroke="#fff" stroke-width="1.2" />
<line x1="300.3" y1="378.8" x2="303.1" y2="379.9" stroke="#fff" stroke-width="1.2" />
<line x1="303.6" y1="377.4" x2="306.4" y2="378.5" stroke="#fff" stroke-width="1.2" />
<line x1="307" y1="376" x2="309.8" y2="377" stroke="#fff" stroke-width="1.2" />
<line x1="310.3" y1="374.5" x2="313.1" y2="375.6" stroke="#fff" stroke-width="1.2" />
<line x1="313.7" y1="373.1" x2="316.5" y2="374.2" stroke="#fff" stroke-width="1.2" />
<line x1="317" y1="371.6" x2="319.8" y2="372.7" stroke="#fff" stroke-width="1.2" />
<line x1="320.3" y1="370.2" x2="323.1" y2="371.3" stroke="#fff" stroke-width="1.2" />
<line x1="323.7" y1="368.8" x2="326.5" y2="369.9" stroke="#fff" stroke-width="1.2" />
<line x1="327" y1="367.3" x2="329.8" y2="368.4" stroke="#fff" stroke-width="1.2" />
<line x1="330.4" y1="365.9" x2="333.2" y2="367" stroke="#fff" stroke-width="1.2" />
<line x1="333.7" y1="364.5" x2="336.5" y2="365.6" stroke="#fff" stroke-width="1.2" />
<line x1="337.1" y1="363" x2="339.8" y2="364.1" stroke="#fff" stroke-width="1.2" />
<line x1="340.4" y1="361.6" x2="343.2" y2="362.7" stroke="#fff" stroke-width="1.2" />
<line x1="343.7" y1="360.2" x2="346.5" y2="361.3" stroke="#fff" stroke-width="1.2" />
<line x1="347.1" y1="358.7" x2="349.9" y2="359.8" stroke="#fff" stroke-width="1.2" />
<line x1="350.4" y1="357.3" x2="353.2" y2="358.4" stroke="#fff" stroke-width="1.2" />
<line x1="353.8" y1="355.9" x2="356.6" y2="357" stroke="#fff" stroke-width="1.2" />
<line x1="357.1" y1="354.4" x2="359.9" y2="355.5" stroke="#fff" stroke-width="1.2" />
<line x1="360.4" y1="353" x2="363.2" y2="354.1" stroke="#fff" stroke-width="1.2" />
<line x1="363.8" y1="351.6" x2="366.6" y2="352.7" stroke="#fff" stroke-width="1.2" />
<line x1="367.1" y1="350.1" x2="369.9" y2="351.2" stroke="#fff" stroke-width="1.2" />
<line x1="370.5" y1="348.7" x2="373.3" y2="349.8" stroke="#fff" stroke-width="1.2" />
<line x1="373.8" y1="347.3" x2="376.6" y2="348.4" stroke="#fff" stroke-width="1.2" />
<line x1="377.2" y1="345.8" x2="380" y2="346.9" stroke="#fff" stroke-width="1.2" />
<line x1="380.5" y1="344.4" x2="383.3" y2="345.5" stroke="#fff" stroke-width="1.2" />
<line x1="265.3" y1="402.1" x2="273.7" y2="405.4" stroke="#fff" stroke-width="1.25" />
<line x1="268.6" y1="400.7" x2="277" y2="404" stroke="#fff" stroke-width="1.25" />
<line x1="272" y1="399.3" x2="280.3" y2="402.5" stroke="#fff" stroke-width="1.25" />
<line x1="275.3" y1="397.8" x2="283.7" y2="401.1" stroke="#fff" stroke-width="1.25" />
<line x1="278.6" y1="396.4" x2="287" y2="399.7" stroke="#fff" stroke-width="1.25" />
<line x1="282" y1="395" x2="290.4" y2="398.2" stroke="#fff" stroke-width="1.25" />
<line x1="285.3" y1="393.5" x2="293.7" y2="396.8" stroke="#fff" stroke-width="1.25" />
<line x1="288.7" y1="392.1" x2="297.1" y2="395.4" stroke="#fff" stroke-width="1.25" />
<line x1="292" y1="390.7" x2="300.4" y2="393.9" stroke="#fff" stroke-width="1.25" />
<line x1="295.4" y1="389.2" x2="303.7" y2="392.5" stroke="#fff" stroke-width="1.25" />
<line x1="298.7" y1="387.8" x2="307.1" y2="391.1" stroke="#fff" stroke-width="1.25" />
<line x1="302" y1="386.4" x2="310.4" y2="389.6" stroke="#fff" stroke-width="1.25" />
<line x1="305.4" y1="384.9" x2="313.8" y2="388.2" stroke="#fff" stroke-width="1.25" />
<line x1="308.7" y1="383.5" x2="317.1" y2="386.8" stroke="#fff" stroke-width="1.25" />
<line x1="312.1" y1="382.1" x2="320.5" y2="385.3" stroke="#fff" stroke-width="1.25" />
<line x1="315.4" y1="380.6" x2="323.8" y2="383.9" stroke="#fff" stroke-width="1.25" />
<line x1="318.7" y1="379.2" x2="327.1" y2="382.5" stroke="#fff" stroke-width="1.25" />
<line x1="322.1" y1="377.7" x2="330.5" y2="381" stroke="#fff" stroke-width="1.25" />
<line x1="325.4" y1="376.3" x2="333.8" y2="379.6" stroke="#fff" stroke-width="1.25" />
<line x1="328.8" y1="374.9" x2="337.2" y2="378.2" stroke="#fff" stroke-width="1.25" />
<line x1="332.1" y1="373.4" x2="340.5" y2="376.7" stroke="#fff" stroke-width="1.25" />
<line x1="335.5" y1="372" x2="343.8" y2="375.3" stroke="#fff" stroke-width="1.25" />
<line x1="338.8" y1="370.6" x2="347.2" y2="373.9" stroke="#fff" stroke-width="1.25" />
<line x1="342.1" y1="369.1" x2="350.5" y2="372.4" stroke="#fff" stroke-width="1.25" />
<line x1="345.5" y1="367.7" x2="353.9" y2="371" stroke="#fff" stroke-width="1.25" />
<line x1="348.8" y1="366.3" x2="357.2" y2="369.6" stroke="#fff" stroke-width="1.25" />
<line x1="352.2" y1="364.8" x2="360.6" y2="368.1" stroke="#fff" stroke-width="1.25" />
<line x1="355.5" y1="363.4" x2="363.9" y2="366.7" stroke="#fff" stroke-width="1.25" />
<line x1="358.9" y1="362" x2="367.2" y2="365.2" stroke="#fff" stroke-width="1.25" />
<line x1="362.2" y1="360.5" x2="370.6" y2="363.8" stroke="#fff" stroke-width="1.25" />
<line x1="365.5" y1="359.1" x2="373.9" y2="362.4" stroke="#fff" stroke-width="1.25" />
<line x1="368.9" y1="357.7" x2="377.3" y2="360.9" stroke="#fff" stroke-width="1.25" />
<line x1="372.2" y1="356.2" x2="380.6" y2="359.5" stroke="#fff" stroke-width="1.25" />
<line x1="375.6" y1="354.8" x2="384" y2="358.1" stroke="#fff" stroke-width="1.25" />
<line x1="378.9" y1="353.4" x2="387.3" y2="356.6" stroke="#fff" stroke-width="1.25" />
<line x1="382.2" y1="351.9" x2="390.6" y2="355.2" stroke="#fff" stroke-width="1.25" />
<line x1="385.6" y1="350.5" x2="394" y2="353.8" stroke="#fff" stroke-width="1.25" />
<line x1="388.9" y1="349.1" x2="397.3" y2="352.3" stroke="#fff" stroke-width="1.25" />
<line x1="251.2" y1="392.8" x2="370" y2="341.9" stroke="#0d0d0d" stroke-width="3.9" />
<line x1="251.2" y1="392.8" x2="370" y2="341.9" stroke="#fff" stroke-width="2.3" />
<line x1="251.2" y1="392.8" x2="370" y2="341.9" stroke="#666" stroke-width="0.35" />
<line x1="266.1" y1="398.6" x2="384.8" y2="347.7" stroke="#0d0d0d" stroke-width="3.9" />
<line x1="266.1" y1="398.6" x2="384.8" y2="347.7" stroke="#fff" stroke-width="2.3" />
<line x1="266.1" y1="398.6" x2="384.8" y2="347.7" stroke="#666" stroke-width="0.35" />
<path d="M251.2 392.8 C246.4 395.6 259.5 400.7 266.1 398.6" fill="none" stroke="#0d0d0d" stroke-width="3.9" />
<path d="M251.2 392.8 C246.4 395.6 259.5 400.7 266.1 398.6" fill="none" stroke="#fff" stroke-width="2.3" />
<path d="M251.2 392.8 C246.4 395.6 259.5 400.7 266.1 398.6" fill="none" stroke="#666" stroke-width="0.35" />
<path d="M356.2 337.2 L359 336 L402 352.8 L399.2 354 Z" fill="#fff" stroke="#000" stroke-width="0.8" />
<path d="M232 390.5 L359 336 L402 352.8 L275 407.3 Z" fill="none" stroke="#000" stroke-width="1.1" />
<line x1="285.6" y1="351.4" x2="294.5" y2="362.5" stroke="#000" stroke-width="1.0" />
<!-- 40_strips.py -->
<path d="M20 357 L180 288 L181 286.6 L188.6 285.4 L189.4 292 L184 303 L178 308 L34 368 L20 374 L13 376 L10 374 L11 370 L15 362 Z" fill="#fff" stroke="#000" stroke-width="0.8" />
<path d="M11 371 Q13 362 20 357 L37 350 Q40 346.2 43 345.7 Q46 345.2 48 345.2 L52.4 343.3 Q55.4 339.5 58.4 339 Q61.4 338.5 63.4 338.6 L68 336.6 Q71 332.8 74 332.3 Q77 331.8 79 331.9 L84 329.7 Q87 325.9 90 325.4 Q93 324.9 95 325 L99.4 323.1 Q102.4 319.3 105.4 318.8 Q108.4 318.3 110.4 318.3 L115 316.3 Q118 312.5 121 312 Q124 311.5 126 311.6 L131 309.4 Q134 305.6 137 305.1 Q140 304.6 142 304.7 L146 303 Q149 299.2 152 298.7 Q155 298.2 157 298.2 L180 288 L181 286.6 L188.6 285.4" fill="none" stroke="#000" stroke-width="1.9" />
<path d="M13 371.5 Q15 364 21.5 359.2 L181 290.3" fill="none" stroke="#000" stroke-width="0.6" />
<path d="M180 288 L181 286.6 L188.6 285.4 L189.4 286.4 L189.2 291.6 L185.4 293.6 L181.4 291 Z" fill="#fff" stroke="#000" stroke-width="1.0" />
<line x1="189" y1="292" x2="184" y2="303" stroke="#000" stroke-width="1.2" />
<line x1="184" y1="303" x2="178" y2="308" stroke="#000" stroke-width="1.2" />
<path d="M39.6 350.7 L46.2 347.9 L46.4 353.5 L39.8 356.3 Z" fill="#fff" stroke="#000" stroke-width="1.5" />
<path d="M41.2 352.1 L44.8 350.6 L44.9 352.5 L41.3 354 Z" fill="#fff" stroke="#000" stroke-width="0.5" />
<path d="M55 344 L61.6 341.2 L61.8 346.8 L55.2 349.6 Z" fill="#fff" stroke="#000" stroke-width="1.5" />
<path d="M56.6 345.4 L60.2 343.9 L60.3 345.8 L56.7 347.3 Z" fill="#fff" stroke="#000" stroke-width="0.5" />
<path d="M70.6 337.3 L77.2 334.5 L77.4 340.1 L70.8 342.9 Z" fill="#fff" stroke="#000" stroke-width="1.5" />
<path d="M72.2 338.7 L75.8 337.2 L75.9 339.1 L72.3 340.6 Z" fill="#fff" stroke="#000" stroke-width="0.5" />
<path d="M86.6 330.4 L93.2 327.6 L93.4 333.2 L86.8 336 Z" fill="#fff" stroke="#000" stroke-width="1.5" />
<path d="M88.2 331.8 L91.8 330.3 L91.9 332.2 L88.3 333.7 Z" fill="#fff" stroke="#000" stroke-width="0.5" />
<path d="M102 323.8 L108.6 321 L108.8 326.6 L102.2 329.4 Z" fill="#fff" stroke="#000" stroke-width="1.5" />
<path d="M103.6 325.2 L107.2 323.7 L107.3 325.6 L103.7 327.1 Z" fill="#fff" stroke="#000" stroke-width="0.5" />
<path d="M117.6 317 L124.2 314.2 L124.4 319.8 L117.8 322.6 Z" fill="#fff" stroke="#000" stroke-width="1.5" />
<path d="M119.2 318.4 L122.8 316.9 L122.9 318.8 L119.3 320.3 Z" fill="#fff" stroke="#000" stroke-width="0.5" />
<path d="M133.6 310.1 L140.2 307.3 L140.4 312.9 L133.8 315.7 Z" fill="#fff" stroke="#000" stroke-width="1.5" />
<path d="M135.2 311.5 L138.8 310 L138.9 311.9 L135.3 313.4 Z" fill="#fff" stroke="#000" stroke-width="0.5" />
<path d="M148.6 303.7 L155.2 300.9 L155.4 306.5 L148.8 309.3 Z" fill="#fff" stroke="#000" stroke-width="1.5" />
<path d="M150.2 305.1 L153.8 303.6 L153.9 305.5 L150.3 307 Z" fill="#fff" stroke="#000" stroke-width="0.5" />
<circle cx="51" cy="355.4" r="0.6" fill="#000" stroke="none" stroke-width="1"/>
<circle cx="67" cy="348.7" r="0.6" fill="#000" stroke="none" stroke-width="1"/>
<circle cx="82" cy="342.5" r="0.6" fill="#000" stroke="none" stroke-width="1"/>
<circle cx="98" cy="335.8" r="0.6" fill="#000" stroke="none" stroke-width="1"/>
<circle cx="128" cy="323.3" r="0.6" fill="#000" stroke="none" stroke-width="1"/>
<circle cx="145" cy="316.2" r="0.6" fill="#000" stroke="none" stroke-width="1"/>
<circle cx="161" cy="309.6" r="0.6" fill="#000" stroke="none" stroke-width="1"/>
<circle cx="128" cy="320.5" r="1" fill="#fff" stroke="#000" stroke-width="0.5"/>
<circle cx="18.4" cy="372" r="1.5" fill="#000" stroke="none" stroke-width="1"/>
<line x1="35" y1="363.5" x2="43.5" y2="367.5" stroke="#000" stroke-width="0.9" />
<line x1="113.5" y1="331.5" x2="122" y2="335.5" stroke="#000" stroke-width="0.9" />
<line x1="13" y1="340" x2="8.4" y2="352.4" stroke="#000" stroke-width="0.9" />
<circle cx="8" cy="353" r="1.3" fill="#000" stroke="none" stroke-width="1"/>
<line x1="8" y1="353" x2="20" y2="357" stroke="#000" stroke-width="0.9" />
<line x1="84" y1="308.5" x2="81" y2="317" stroke="#000" stroke-width="0.9" />
<circle cx="81" cy="317.6" r="1.1" fill="#fff" stroke="#000" stroke-width="0.7"/>
<line x1="81.8" y1="318" x2="96" y2="324" stroke="#000" stroke-width="0.9" />
<line x1="103" y1="304.5" x2="111" y2="317" stroke="#000" stroke-width="0.9" />
<path d="M162 352 L221 328 L220.4 336 L162.6 360 Z" fill="#fff" stroke="#000" stroke-width="0.9" />
<path d="M162 352 L221 328 L220.8 331 L162.2 355 Z" fill="#151515" stroke="#000" stroke-width="0.6" />
<line x1="162.8" y1="353.2" x2="220.4" y2="329.2" stroke="#fff" stroke-width="0.65" stroke-dasharray="2.4 1.1" style="stroke-linecap:butt"/>
<path d="M167.9 352.6 L170.3 351.7 L170.3 353 L167.9 353.9 Z" fill="#151515" stroke="none" stroke-width="1" />
<path d="M177.7 348.6 L180.1 347.7 L180.1 349 L177.7 349.9 Z" fill="#151515" stroke="none" stroke-width="1" />
<path d="M187.6 344.6 L190 343.7 L190 345 L187.6 345.9 Z" fill="#151515" stroke="none" stroke-width="1" />
<path d="M197.4 340.6 L199.8 339.7 L199.8 341 L197.4 341.9 Z" fill="#151515" stroke="none" stroke-width="1" />
<path d="M207.2 336.6 L209.6 335.7 L209.6 337 L207.2 337.9 Z" fill="#151515" stroke="none" stroke-width="1" />
<path d="M217.1 332.6 L219.5 331.7 L219.5 333 L217.1 333.9 Z" fill="#151515" stroke="none" stroke-width="1" />
<path d="M225 337 L257 324 L256.4 332 L225.6 345 Z" fill="#fff" stroke="#000" stroke-width="0.9" />
<path d="M225 337 L257 324 L256.8 327 L225.2 340 Z" fill="#151515" stroke="#000" stroke-width="0.6" />
<line x1="225.8" y1="338.2" x2="256.4" y2="325.2" stroke="#fff" stroke-width="0.65" stroke-dasharray="2.4 1.1" style="stroke-linecap:butt"/>
<path d="M231.4 337.4 L233.8 336.4 L233.8 337.8 L231.4 338.7 Z" fill="#151515" stroke="none" stroke-width="1" />
<path d="M242.1 333.1 L244.5 332.1 L244.5 333.4 L242.1 334.4 Z" fill="#151515" stroke="none" stroke-width="1" />
<path d="M252.7 328.7 L255.1 327.8 L255.1 329.1 L252.7 330 Z" fill="#151515" stroke="none" stroke-width="1" />
<path d="M250 315 L284 302 L283.4 310 L250.6 323 Z" fill="#fff" stroke="#000" stroke-width="0.9" />
<path d="M250 315 L284 302 L283.8 305 L250.2 318 Z" fill="#151515" stroke="#000" stroke-width="0.6" />
<line x1="250.8" y1="316.2" x2="283.4" y2="303.2" stroke="#fff" stroke-width="0.65" stroke-dasharray="2.4 1.1" style="stroke-linecap:butt"/>
<path d="M256.8 315.4 L259.2 314.4 L259.2 315.8 L256.8 316.7 Z" fill="#151515" stroke="none" stroke-width="1" />
<path d="M268.1 311.1 L270.5 310.1 L270.5 311.4 L268.1 312.4 Z" fill="#151515" stroke="none" stroke-width="1" />
<path d="M279.5 306.7 L281.9 305.8 L281.9 307.1 L279.5 308 Z" fill="#151515" stroke="none" stroke-width="1" />
<path d="M488.2 437.7 L543.2 415 L542.6 420.8 L488.8 443.5 Z" fill="#fff" stroke="#000" stroke-width="0.9" />
<path d="M488.2 437.7 L543.2 415 L543 418 L488.4 440.7 Z" fill="#151515" stroke="#000" stroke-width="0.6" />
<line x1="489" y1="438.9" x2="542.6" y2="416.2" stroke="#fff" stroke-width="0.65" stroke-dasharray="2.4 1.1" style="stroke-linecap:butt"/>
<path d="M493.7 438.4 L496.1 437.5 L496.1 438.8 L493.7 439.7 Z" fill="#151515" stroke="none" stroke-width="1" />
<path d="M502.9 434.6 L505.3 433.7 L505.3 435 L502.9 435.9 Z" fill="#151515" stroke="none" stroke-width="1" />
<path d="M512 430.9 L514.4 429.9 L514.4 431.2 L512 432.2 Z" fill="#151515" stroke="none" stroke-width="1" />
<path d="M521.2 427.1 L523.6 426.1 L523.6 427.4 L521.2 428.4 Z" fill="#151515" stroke="none" stroke-width="1" />
<path d="M530.4 423.3 L532.8 422.3 L532.8 423.6 L530.4 424.6 Z" fill="#151515" stroke="none" stroke-width="1" />
<path d="M539.5 419.5 L541.9 418.6 L541.9 419.9 L539.5 420.8 Z" fill="#151515" stroke="none" stroke-width="1" />
<path d="M421 464.6 L451.6 453.4 L451 459.6 L421.6 470.8 Z" fill="#fff" stroke="#000" stroke-width="0.9" />
<path d="M421 464.6 L451.6 453.4 L451.4 456.4 L421.2 467.6 Z" fill="#151515" stroke="#000" stroke-width="0.6" />
<line x1="421.8" y1="465.9" x2="451" y2="454.6" stroke="#fff" stroke-width="0.65" stroke-dasharray="2.4 1.1" style="stroke-linecap:butt"/>
<path d="M427.1 465.4 L429.5 464.4 L429.5 465.7 L427.1 466.7 Z" fill="#151515" stroke="none" stroke-width="1" />
<path d="M437.3 461.6 L439.7 460.7 L439.7 462 L437.3 462.9 Z" fill="#151515" stroke="none" stroke-width="1" />
<path d="M447.5 457.9 L449.9 456.9 L449.9 458.2 L447.5 459.2 Z" fill="#151515" stroke="none" stroke-width="1" />
<path d="M458 455.6 L488.9 443.5 L488.3 449.5 L458.6 461.6 Z" fill="#fff" stroke="#000" stroke-width="0.9" />
<path d="M458 455.6 L488.9 443.5 L488.7 446.5 L458.2 458.6 Z" fill="#151515" stroke="#000" stroke-width="0.6" />
<line x1="458.8" y1="456.9" x2="488.3" y2="444.8" stroke="#fff" stroke-width="0.65" stroke-dasharray="2.4 1.1" style="stroke-linecap:butt"/>
<path d="M464.2 456.2 L466.6 455.2 L466.6 456.5 L464.2 457.5 Z" fill="#151515" stroke="none" stroke-width="1" />
<path d="M474.5 452.1 L476.9 451.2 L476.9 452.5 L474.5 453.4 Z" fill="#151515" stroke="none" stroke-width="1" />
<path d="M484.8 448.1 L487.2 447.2 L487.2 448.5 L484.8 449.4 Z" fill="#151515" stroke="none" stroke-width="1" />
<line x1="180" y1="335.5" x2="186" y2="342" stroke="#000" stroke-width="0.9" />
<line x1="228.6" y1="316.5" x2="242" y2="329.4" stroke="#000" stroke-width="0.9" />
<line x1="264.6" y1="298.5" x2="269" y2="306.6" stroke="#000" stroke-width="0.9" />
<line x1="532.4" y1="448" x2="518.4" y2="432.3" stroke="#000" stroke-width="0.9" />
<line x1="482.8" y1="476.5" x2="436.5" y2="465.7" stroke="#000" stroke-width="0.9" />
<line x1="482.8" y1="476.5" x2="473.2" y2="456.4" stroke="#000" stroke-width="0.9" />
<!-- 45_harness.py -->
<path d="M157.5 273.4 L171 273.9 Q181 273.6 189.2 271.7 Q200 269.8 210 268 L218 265.2 L228 265 L231.5 263 L250 255 L264 249.2 L274 248.2 L277.4 246 L286 242 L300 236 L314 230 L326 225.3 L335 223.6" fill="none" stroke="#000" stroke-width="2.9" />
<path d="M157.5 273.4 L171 273.9 Q181 273.6 189.2 271.7 Q200 269.8 210 268 L218 265.2 L228 265 L231.5 263 L250 255 L264 249.2 L274 248.2 L277.4 246 L286 242 L300 236 L314 230 L326 225.3 L335 223.6" fill="none" stroke="#fff" stroke-width="1.3" />
<path d="M157 272.8 Q152.4 271 152.3 267.4 Q152.6 265 154.6 263 L163.6 256.4 Q165.6 254.6 163.6 253.6 Q161 252.9 158 253.4 L155 254.6" fill="none" stroke="#000" stroke-width="2.6" />
<path d="M157 272.8 Q152.4 271 152.3 267.4 Q152.6 265 154.6 263 L163.6 256.4 Q165.6 254.6 163.6 253.6 Q161 252.9 158 253.4 L155 254.6" fill="none" stroke="#fff" stroke-width="1.1" />
<path d="M152.6 254.2 L155.6 253.2 L156.6 255.6 L153.6 256.6 Z" fill="#fff" stroke="#000" stroke-width="0.9" />
<path d="M155.2 271.6 L158.6 271.8 L158.8 275.2 L155.4 274.8 Z" fill="#111" stroke="#000" stroke-width="0.6" />
<path d="M312.8 205 L327 203 Q334 201.5 339.2 199.6 Q343 198.8 345 201 Q349 205 350.2 210.5 Q350 213.5 347.5 215 L343 217.8 L336.8 220.4" fill="none" stroke="#000" stroke-width="3.6" />
<path d="M312.8 205 L327 203 Q334 201.5 339.2 199.6 Q343 198.8 345 201 Q349 205 350.2 210.5 Q350 213.5 347.5 215 L343 217.8 L336.8 220.4" fill="none" stroke="#fff" stroke-width="2.2" />
<path d="M312.8 205 L327 203 Q334 201.5 339.2 199.6 Q343 198.8 345 201 Q349 205 350.2 210.5 Q350 213.5 347.5 215 L343 217.8 L336.8 220.4" fill="none" stroke="#000" stroke-width="0.6" />
<path d="M306 205.6 L312 204.2 L313.4 208.4 L308.2 209.8 Z" fill="#fff" stroke="#000" stroke-width="1.0" />
<line x1="308" y1="205.6" x2="309.3" y2="209.3" stroke="#000" stroke-width="0.6" />
<path d="M345.8 201.5 L348 200.8 L351 209 L349 209.8 Z" fill="#fff" stroke="#000" stroke-width="0.8" />
<ellipse cx="335.5" cy="230" rx="2.6" ry="4.6" fill="none" stroke="#000" stroke-width="1.3" transform="rotate(-20 335.5 230)"/>
<ellipse cx="340" cy="232.5" rx="2.6" ry="4.6" fill="none" stroke="#000" stroke-width="1.3" transform="rotate(-20 340 232.5)"/>
<ellipse cx="344.5" cy="233.5" rx="2.6" ry="4.6" fill="none" stroke="#000" stroke-width="1.3" transform="rotate(-20 344.5 233.5)"/>
<path d="M333 224 L335 229 M338 225 L341 231 M343 226 L345.5 232 M346.5 226 L347.5 236" fill="none" stroke="#000" stroke-width="1.2" />
<path d="M336 225 L341 226.5 L340.5 229.5 L335.5 228 Z" fill="#111" stroke="none" stroke-width="1" />
<path d="M345.5 226 L348.5 226.5 L348 232 L345.5 231.5 Z" fill="#111" stroke="none" stroke-width="1" />
<line x1="318.5" y1="219" x2="326.3" y2="216.5" stroke="#000" stroke-width="0.9" />
<circle cx="326.3" cy="216.5" r="1.2" fill="#000" stroke="none" stroke-width="1"/>
<line x1="326.3" y1="216.5" x2="349.7" y2="227" stroke="#000" stroke-width="0.9" />
<line x1="274" y1="233.8" x2="285" y2="242.4" stroke="#000" stroke-width="0.9" />
<!-- 50_mid_top.py -->
<line x1="318.5" y1="145.5" x2="325.8" y2="134.8" stroke="#000" stroke-width="0.9" />
<line x1="323.8" y1="133.6" x2="328" y2="135.6" stroke="#000" stroke-width="0.9" />
<path d="M338.5 138.8 Q348 134.5 360.6 138.3 Q366 140 374 143.4" fill="none" stroke="#000" stroke-width="2.6" />
<path d="M338.5 138.8 Q348 134.5 360.6 138.3 Q366 140 374 143.4" fill="none" stroke="#fff" stroke-width="0.9" />
<path d="M332.3 137.3 L335.4 136.7 L338.5 139.8 L336 142.2 L332.3 144.7 L331.1 143.5 L333 140.5 Z" fill="#fff" stroke="#000" stroke-width="1.0" />
<path d="M331.3 143 L333.2 142.6 L333.4 145 L331.5 145.3 Z" fill="#000" stroke="none" stroke-width="1" />
<line x1="333" y1="137" x2="334.2" y2="134.4" stroke="#000" stroke-width="0.8" />
<line x1="345.8" y1="145.8" x2="348" y2="138.6" stroke="#000" stroke-width="0.9" />
<path d="M370.5 143.5 L374 141 L377.8 141.6 L377.8 149.6 L376 152 L370.5 151.5 Z" fill="#fff" stroke="#000" stroke-width="1.2" />
<path d="M372.6 144.6 L375.6 143.6 L375.6 149.6 L372.6 150 Z" fill="#fff" stroke="#000" stroke-width="0.7" />
<path d="M377.8 144 L381.5 142.2 L381.8 146.3 L384.3 147.3 M377.8 147.6 L381.8 146.3" fill="none" stroke="#000" stroke-width="0.9" />
<line x1="383.4" y1="135.5" x2="380.3" y2="140.4" stroke="#000" stroke-width="0.9" />
<path d="M369.2 157 L373.5 155.4 L376 156.6 L380.3 154.5 L380.3 163.2 L374.2 166.2 L368 164.6 L368 162.2 L369.2 162 Z" fill="#fff" stroke="#000" stroke-width="1.1" />
<path d="M373.5 155.4 L373.7 163.5 M376 156.6 L376 164.5 M371.3 157.5 L371.3 163" fill="none" stroke="#000" stroke-width="0.7" />
<path d="M380.3 158.2 L384.6 159.5 L384 162 L380.3 161.3 Z" fill="#fff" stroke="#000" stroke-width="0.9" />
<line x1="392" y1="154.5" x2="382.4" y2="160.6" stroke="#000" stroke-width="0.9" />
<line x1="380.3" y1="164.4" x2="380.3" y2="168.7" stroke="#000" stroke-width="0.9" />
<line x1="380.3" y1="168.7" x2="389" y2="170.5" stroke="#000" stroke-width="0.9" />
<path d="M364.7 177.3 L368.4 173 L398 183.5 L398.5 187 L391.2 188.4 Z" fill="#fff" stroke="#000" stroke-width="1.1" stroke-linejoin="round"/>
<path d="M366.2 176.8 L369 174.6 L396 184.2" fill="none" stroke="#000" stroke-width="1.6" />
<path d="M372 178.5 Q382 184.5 390.5 186.3" fill="none" stroke="#000" stroke-width="1.2" />
<path d="M391.2 188.4 L398.5 187 L399 210.5 L391.8 214.2 Z" fill="#fff" stroke="#000" stroke-width="1.1" />
<path d="M394.3 196.5 L397.3 195.8 L397.3 206.8 L394.3 207.5 Z" fill="#fff" stroke="#000" stroke-width="0.7" />
<line x1="393" y1="190" x2="393.3" y2="212" stroke="#000" stroke-width="0.6" />
<path d="M394 208.5 L398 207.5 L398 211 L394 212.5 Z" fill="#ddd" stroke="#000" stroke-width="0.5" />
<path d="M366 177.8 L390 187.9 Q391.2 188.4 391.2 190 L391.8 212.6 Q391.8 214.6 390.3 213.9 L366 203.2 Q364.7 202.6 364.7 201 L364.7 179 Q364.7 177.3 366 177.8 Z" fill="#fff" stroke="#000" stroke-width="1.3"/>
<path d="M366.3 180 L366.3 201.8 L390 212" fill="none" stroke="#000" stroke-width="0.5" />
<ellipse cx="396.6" cy="191" rx="4.6" ry="3" fill="none" stroke="#000" stroke-width="1.6" transform="rotate(28 396.6 191)"/>
<ellipse cx="396.6" cy="191" rx="4.6" ry="3" fill="none" stroke="#fff" stroke-width="0.5" transform="rotate(28 396.6 191)"/>
<path d="M363.3 178.5 Q362.3 184 363.6 189" fill="none" stroke="#000" stroke-width="0.8" />
<line x1="357.3" y1="184" x2="364" y2="188.4" stroke="#000" stroke-width="0.9" />
<!-- 51_16_20.py -->
<path d="M407 160.4 L409.5 159.5 L413.5 161.2 L428.5 168.6 L432.8 172.3 L431.6 174.6 L427.5 172.6 L412.5 165.6 L411.8 166.6 L407.6 164.6 Z" fill="#fff" stroke="#000" stroke-width="1.0" />
<ellipse cx="413" cy="159.3" rx="2.6" ry="1.5" fill="#111" transform="rotate(-15 413 159.3)"/>
<ellipse cx="432.6" cy="168" rx="2.6" ry="1.6" fill="#111" transform="rotate(-15 432.6 168)"/>
<path d="M432 173.6 Q430.2 179 431.8 183.4 Q433 186.5 436.2 188" fill="none" stroke="#000" stroke-width="3.4" />
<path d="M432 173.6 Q430.2 179 431.8 183.4 Q433 186.5 436.2 188" fill="none" stroke="#fff" stroke-width="1.6" />
<path d="M432 173.6 Q430.2 179 431.8 183.4 Q433 186.5 436.2 188" fill="none" stroke="#000" stroke-width="0.5" />
<line x1="421.2" y1="152" x2="420.8" y2="163.8" stroke="#000" stroke-width="0.9" />
<line x1="461.8" y1="169.3" x2="450.6" y2="167.4" stroke="#000" stroke-width="0.9" />
<circle cx="450.6" cy="167.4" r="1.1" fill="#000" stroke="none" stroke-width="1"/>
<line x1="450.6" y1="167.4" x2="427.4" y2="177.4" stroke="#000" stroke-width="0.9" />
<circle cx="439.8" cy="180.2" r="2.4" fill="#fff" stroke="#000" stroke-width="1.8"/>
<line x1="461.8" y1="183.4" x2="442.4" y2="181.4" stroke="#000" stroke-width="0.9" />
<line x1="441.5" y1="182.6" x2="441.5" y2="192" stroke="#000" stroke-width="0.9" />
<line x1="439.2" y1="187.8" x2="443.5" y2="188.4" stroke="#000" stroke-width="0.8" />
<path d="M413.4 185.4 L415 184.4 L417 184.8 L446.5 198.4 L449 200.4 L448.6 202.3 L446.3 202.7 L416.5 188.8 L414 187.8 Z" fill="#fff" stroke="#000" stroke-width="1.0" />
<circle cx="415.3" cy="186.3" r="0.8" fill="#fff" stroke="#000" stroke-width="0.6"/>
<ellipse cx="446.6" cy="200.8" rx="1.9" ry="1.2" fill="#111" transform="rotate(25 446.6 200.8)"/>
<path d="M431 197 L434 198.3 L433.4 199.8 L430.4 198.6 Z" fill="#fff" stroke="#000" stroke-width="0.7" />
<line x1="460.9" y1="202.6" x2="452.4" y2="192.6" stroke="#000" stroke-width="0.9" />
<circle cx="452.4" cy="192.6" r="1.1" fill="#000" stroke="none" stroke-width="1"/>
<line x1="452.4" y1="192.6" x2="433.5" y2="201.4" stroke="#000" stroke-width="0.9" />
<line x1="451.2" y1="212.4" x2="447.6" y2="201.8" stroke="#000" stroke-width="0.9" />
<!-- 52_31_41.py -->
<path d="M345.2 303 L347.5 302.2 L353.7 305.1 L351.4 305.9 Z" fill="#fff" stroke="#000" stroke-width="0.9" />
<path d="M351.4 305.9 L353.7 305.1 L353.7 314.1 L351.4 314.9 Z" fill="#fff" stroke="#000" stroke-width="0.9" />
<path d="M347 313.9 L351.4 314.9 L353.7 314.1 L350.5 316.3 L350.5 317.9 L353.3 318.9 L349.6 319.7 L346.3 318.2 Z" fill="#bbb" stroke="#000" stroke-width="0.7" />
<path d="M349.6 319.7 L353.3 318.9 L353.3 326.2 L349.6 327.3 Z" fill="#ccc" stroke="#000" stroke-width="0.9" />
<path d="M340.9 311.7 L345.2 303 L351.4 305.9 L351.4 314.9 L347 313.9 L346.3 318.2 L349.6 319.7 L349.6 327.3 L343 324.8 L340.9 323 L340.9 320 L342 319.4 L340.9 318.9 Z" fill="#fff" stroke="#000" stroke-width="1.1" />
<line x1="330" y1="312.3" x2="340.2" y2="313.5" stroke="#000" stroke-width="0.9" />
<line x1="344.2" y1="277" x2="352.7" y2="279" stroke="#000" stroke-width="0.9" />
<line x1="353.5" y1="277.6" x2="353.5" y2="284.6" stroke="#000" stroke-width="1.1" />
<path d="M353.5 284.6 L359.6 286.2 L359.6 296.2" fill="none" stroke="#000" stroke-width="0.9" />
<circle cx="353.5" cy="278.6" r="0.9" fill="#000" stroke="none" stroke-width="1"/>
<path d="M361.2 281.5 L368 283 L368 294.6 L361.2 293 Z" fill="#fff" stroke="#000" stroke-width="1.1" />
<path d="M368 283 L370.7 281.3 L370.7 293 L368 294.6 Z" fill="#fff" stroke="#000" stroke-width="0.9" />
<path d="M361.2 281.5 L364 279.6 L370.7 281.3 L368 283 Z" fill="#222" stroke="#000" stroke-width="0.9" />
<line x1="366.3" y1="284" x2="366.3" y2="293.6" stroke="#000" stroke-width="0.6" />
<line x1="369.5" y1="294" x2="369.5" y2="297.3" stroke="#000" stroke-width="1.0" />
<line x1="367.7" y1="297.3" x2="371.3" y2="297.6" stroke="#000" stroke-width="0.9" />
<line x1="358" y1="296" x2="361.5" y2="296.6" stroke="#000" stroke-width="0.9" />
<path d="M369.6 279.4 Q374 278.6 376.8 281 Q379 284 379.2 289.6" fill="none" stroke="#000" stroke-width="2.2" />
<path d="M369.6 279.4 Q374 278.6 376.8 281 Q379 284 379.2 289.6" fill="none" stroke="#fff" stroke-width="0.7" />
<path d="M378.2 286.6 L380.3 286.6 L380.3 290.8 L378.2 290.8 Z" fill="#333" stroke="#000" stroke-width="0.6" />
<circle cx="369.3" cy="278.8" r="1" fill="#000" stroke="none" stroke-width="1"/>
<line x1="359.4" y1="271.3" x2="364.3" y2="281" stroke="#000" stroke-width="0.9" />
<line x1="359.4" y1="249.9" x2="364.3" y2="250.5" stroke="#000" stroke-width="0.9" />
<rect x="364.7" y="249" width="2" height="6.6" rx="0.8" fill="#fff" stroke="#000" stroke-width="0.9"/>
<path d="M371 251.7 L375.2 251.5 L375.4 257.2 L371.2 257.4 Z" fill="#fff" stroke="#000" stroke-width="1.3" />
<line x1="372.4" y1="252.6" x2="372.5" y2="256.4" stroke="#000" stroke-width="0.9" />
<path d="M373 257.4 Q372.6 262 374.5 265 Q378 269.2 386 270.2" fill="none" stroke="#000" stroke-width="2.6" />
<path d="M373 257.4 Q372.6 262 374.5 265 Q378 269.2 386 270.2" fill="none" stroke="#fff" stroke-width="0.9" />
<path d="M385.8 269.5 L397 273.4 L397 283.2 L386.5 279.4 Z" fill="#fff" stroke="#000" stroke-width="1.1" />
<path d="M397 273.4 L402.5 270.4 L402.5 280 L397 283.2 Z" fill="#fff" stroke="#000" stroke-width="1.1" />
<path d="M385.8 269.5 L387.7 265 L391.5 263.6 L399.6 266.2 L402.5 270.4 L397 273.4 Z" fill="#1a1a1a" stroke="#000" stroke-width="1.0" />
<path d="M389.2 266 L391.2 265.3 L391.4 267.6 L389.4 268.3 Z" fill="#fff" stroke="none" stroke-width="1" />
<path d="M393.6 267.3 L395.6 266.6 L395.8 269 L393.8 269.7 Z" fill="#fff" stroke="none" stroke-width="1" />
<path d="M397.6 268.6 L399.3 268 L399.4 270 L397.7 270.6 Z" fill="#fff" stroke="none" stroke-width="1" />
<circle cx="386.3" cy="280.3" r="0.9" fill="#000" stroke="none" stroke-width="1"/>
<circle cx="397.2" cy="284" r="0.9" fill="#000" stroke="none" stroke-width="1"/>
<circle cx="399.5" cy="276" r="1" fill="#000" stroke="none" stroke-width="1"/>
<line x1="387.7" y1="254.8" x2="389.5" y2="258.5" stroke="#000" stroke-width="0.9" />
<circle cx="389.9" cy="259.3" r="1" fill="#000" stroke="none" stroke-width="1"/>
<line x1="402.5" y1="254.8" x2="395.7" y2="266.5" stroke="#000" stroke-width="0.9" />
<line x1="411.2" y1="266.4" x2="405.5" y2="268.6" stroke="#000" stroke-width="0.9" />
<circle cx="405.5" cy="268.8" r="1.1" fill="#000" stroke="none" stroke-width="1"/>
<path d="M405.5 269 L405.5 277 L402.5 276.3" fill="none" stroke="#000" stroke-width="0.9" />
<line x1="400.6" y1="289" x2="409" y2="278.8" stroke="#000" stroke-width="0.9" />
<circle cx="409" cy="278.6" r="1.1" fill="#000" stroke="none" stroke-width="1"/>
<path d="M430.2 267.6 Q430.2 270.4 427.5 270.5 L422.8 270.7 Q420.4 271 420.4 273.6 L420.6 276" fill="none" stroke="#000" stroke-width="2.0" />
<path d="M430.2 267.6 Q430.2 270.4 427.5 270.5 L422.8 270.7 Q420.4 271 420.4 273.6 L420.6 276" fill="none" stroke="#fff" stroke-width="0.7" />
<circle cx="430.4" cy="266.4" r="1.3" fill="#000" stroke="none" stroke-width="1"/>
<path d="M419.8 274.6 L421.6 274.6 L421.7 278 L419.9 278 Z" fill="#fff" stroke="#000" stroke-width="0.7" />
<path d="M421.6 276.4 L432.6 283.7 L424 289.8" fill="none" stroke="#000" stroke-width="0.9" />
<path d="M409.8 286.2 L414.2 281.8 L422.2 285.3 L417.8 289 Z" fill="#fff" stroke="#000" stroke-width="1.0" />
<path d="M409.8 286.2 L417.8 289 L418 294.4 L410.5 291.7 Z" fill="#fff" stroke="#000" stroke-width="1.0" />
<path d="M417.8 289 L422.2 285.3 L422.2 291 L418 294.4 Z" fill="#fff" stroke="#000" stroke-width="1.0" />
<path d="M413.5 284.5 L415.6 282.8 L419.6 284.5 L417.4 286.4 Z" fill="#222" stroke="#000" stroke-width="0.7" />
<path d="M415.2 284.6 L416.2 283.8 L418 284.6 L417 285.4 Z" fill="#fff" stroke="none" stroke-width="1" />
<line x1="410.2" y1="288.6" x2="417.9" y2="291.4" stroke="#000" stroke-width="0.6" />
<path d="M376 303.2 L380 302.2 L383 303.8 L386 302.6 L389 304.4 L393 303.6 L396 305.6 L400 305.2 L403 307.2 L404.5 312 L404 316.8 L400 315.6 L396 313.6 L392 311.2 L388 309.6 L384 307.6 L380 306.4 L377 305.6 Z" fill="#161616" stroke="#000" stroke-width="1.0" />
<circle cx="381" cy="304.4" r="0.7" fill="#fff" stroke="none" stroke-width="1"/>
<circle cx="386.5" cy="305.6" r="0.7" fill="#fff" stroke="none" stroke-width="1"/>
<circle cx="391" cy="307.6" r="0.7" fill="#fff" stroke="none" stroke-width="1"/>
<circle cx="395.5" cy="309" r="0.7" fill="#fff" stroke="none" stroke-width="1"/>
<circle cx="400" cy="311.5" r="0.7" fill="#fff" stroke="none" stroke-width="1"/>
<circle cx="398" cy="307.2" r="0.7" fill="#fff" stroke="none" stroke-width="1"/>
<circle cx="402" cy="313.5" r="0.7" fill="#fff" stroke="none" stroke-width="1"/>
<path d="M378 304.4 L403 312" fill="none" stroke="#777" stroke-width="0.5" />
<line x1="406.8" y1="301.5" x2="406.8" y2="322.3" stroke="#000" stroke-width="1.0" />
<line x1="404.9" y1="302.9" x2="408.7" y2="302.9" stroke="#000" stroke-width="0.9" />
<line x1="404.9" y1="320.6" x2="408.7" y2="320.6" stroke="#000" stroke-width="0.9" />
<line x1="416.5" y1="307.7" x2="407.3" y2="303.5" stroke="#000" stroke-width="0.9" />
<line x1="416.5" y1="323.4" x2="407.3" y2="316.2" stroke="#000" stroke-width="0.9" />
<!-- 53_blocks.py -->
<path d="M183.8 364.4 L186.8 363.4 L192.6 365.9 L189.7 366.9 Z" fill="#fff" stroke="#000" stroke-width="0.9" />
<path d="M189.7 366.9 L192.6 365.9 L192.6 374.3 L189.7 374.9 Z" fill="#fff" stroke="#000" stroke-width="0.9" />
<path d="M185.8 374.7 L189.7 374.9 L192.6 374.3 L189 376.3 L189 378.1 L189.7 379 L185.8 378.6 Z" fill="#ccc" stroke="#000" stroke-width="0.7" />
<path d="M189.7 387.5 L193.1 387 L193.1 391.4 L190.2 392.8 Z" fill="#ccc" stroke="#000" stroke-width="0.9" />
<path d="M179.4 372.7 L183.8 364.4 L189.7 366.9 L189.7 374.9 L185.8 374.7 L185.8 378.6 L189.7 379 L189.7 387.5 L190.2 392.8 L184.4 391 L183 391.3 L179.4 389.4 L179.4 381.7 L180.7 381.2 L179.4 380.7 Z" fill="#fff" stroke="#000" stroke-width="1.1" />
<line x1="164.7" y1="382.6" x2="179.2" y2="383.5" stroke="#000" stroke-width="0.9" />
<path d="M443.7 352.9 L446.2 351.3 L452.9 354.2 L449.8 355.4 Z" fill="#fff" stroke="#000" stroke-width="0.9" />
<path d="M449.8 355.4 L452.9 354.2 L453.5 374.5 L450.5 375.7 Z" fill="#bbb" stroke="#000" stroke-width="0.9" />
<path d="M443.7 352.9 L449.8 355.4 L450.5 375.7 L447.4 373.8 L446.8 368.9 L444.1 366.5 Z" fill="#fff" stroke="#000" stroke-width="1.1" />
<line x1="460.9" y1="361.5" x2="453.5" y2="363.4" stroke="#000" stroke-width="0.9" />
<path d="M305.9 451.2 L307.6 449.8 L314.7 452.4 L312.4 453.5 Z" fill="#fff" stroke="#000" stroke-width="0.9" />
<path d="M312.4 453.5 L314.7 452.4 L316.5 460.6 L316.5 471.2 L314.1 473.5 L314.1 461.5 Z" fill="#bbb" stroke="#000" stroke-width="0.9" />
<path d="M305.9 451.2 L312.4 453.5 L314.1 461.5 L314.1 473.5 L308.8 471.8 L307.6 468.8 L307 465.3 L308.6 463.3 L309.6 460.6 L307 457.4 L307.3 455.3 Z" fill="#fff" stroke="#000" stroke-width="1.1" />
<line x1="302.4" y1="474.1" x2="308.8" y2="472.4" stroke="#000" stroke-width="0.9" />
<!-- 54_43_50.py -->
<path d="M498.8 253.4 L501.5 251 L512 247 L517 246.4 L519 249 L514 254.8 L505 257.2 L500.5 256.4 Z" fill="#fff" stroke="#000" stroke-width="1.3" />
<ellipse cx="505.4" cy="252.2" rx="3.9" ry="1.7" fill="#fff" stroke="#000" stroke-width="1.0" transform="rotate(-20 505.4 252.2)"/>
<path d="M502.5 256.2 L512.5 253.8 L518 254.6 L528 253.8" fill="none" stroke="#000" stroke-width="1.4" />
<path d="M514 247 L530 243.6 L534 246 L529 252 L519 253.6 Z" fill="#fff" stroke="#000" stroke-width="1.0" />
<path d="M513.2 240.6 L515.6 238.6 L520.6 238.6 L521.4 240.4 L519 241.6 L520.4 243.4 L518 245.8 L515 245 L516.2 242.6 Z" fill="#151515" stroke="#000" stroke-width="0.8" />
<path d="M516.4 239.6 L519.6 239.5 L519.8 240.4 L516.6 240.6 Z" fill="#fff" stroke="none" stroke-width="1" />
<path d="M519 246.2 L522 243 L527.6 242 L529 240 L533 239.8 L533.8 243 L533.8 248.8 L531 251.4 L526 252.6 L521.4 251.6 L519.4 249.4 Z" fill="#151515" stroke="#000" stroke-width="0.8" />
<path d="M522.4 245.6 L526 243.8 L527 245 L523.4 246.8 Z" fill="#fff" stroke="none" stroke-width="1" />
<path d="M529.6 241 L532.4 240.8 L532.6 242 L529.8 242.2 Z" fill="#fff" stroke="none" stroke-width="1" />
<path d="M525.4 248.6 L529.4 247 L530.4 248.6 L526.4 250.2 Z" fill="#fff" stroke="none" stroke-width="1" />
<path d="M521 248.6 L523 248 L523.6 249.6 L521.6 250.2 Z" fill="#fff" stroke="none" stroke-width="1" />
<path d="M530.4 244.4 L532.6 244 L532.8 246.6 L530.6 247 Z" fill="#fff" stroke="none" stroke-width="1" />
<path d="M529.2 252 L531.6 251.2 L532.2 260.2 L529.6 259.2 Z" fill="#222" stroke="#000" stroke-width="0.8" />
<path d="M531.6 251.2 L537.8 249.2 L538.8 263.2 L532.2 260.2 Z" fill="#fff" stroke="#000" stroke-width="1.2" />
<path d="M537.8 249.2 L541.2 246.8 L542 262.4 L538.8 263.2 Z" fill="#ccc" stroke="#000" stroke-width="1.0" />
<path d="M531.6 251.2 L534.2 246.4 L541.2 246.8 L537.8 249.2 Z" fill="#fff" stroke="#000" stroke-width="0.9" />
<line x1="539.6" y1="248.6" x2="540.2" y2="262.6" stroke="#000" stroke-width="0.7" />
<line x1="534.4" y1="231.5" x2="534.4" y2="246" stroke="#000" stroke-width="1.0" />
<circle cx="534.4" cy="231.5" r="1.6" fill="#000" stroke="none" stroke-width="1"/>
<line x1="544.4" y1="225.4" x2="535.4" y2="230.8" stroke="#000" stroke-width="0.9" />
<line x1="499.4" y1="239.8" x2="505" y2="250.2" stroke="#000" stroke-width="0.9" />
<line x1="503.6" y1="290.2" x2="503.6" y2="333.7" stroke="#000" stroke-width="1.1" />
<ellipse cx="503.4" cy="290" rx="1.9" ry="1.3" fill="#000"/>
<line x1="494.8" y1="289.2" x2="502" y2="290" stroke="#000" stroke-width="0.9" />
<line x1="522.4" y1="279.4" x2="522.4" y2="289" stroke="#000" stroke-width="1.0" />
<ellipse cx="522.4" cy="279.2" rx="2" ry="1.4" fill="#000"/>
<line x1="534.7" y1="277" x2="524.3" y2="279" stroke="#000" stroke-width="0.9" />
<path d="M501.3 298.2 L503 295.4 L506 293.4 L516.4 289.2 L518.6 292.4 L514.4 296.8 L513.8 300.4 L506 300.6 L503 301 Z" fill="#fff" stroke="#000" stroke-width="1.2" />
<path d="M506 293.6 L516.4 289.3" fill="none" stroke="#000" stroke-width="1.9" />
<path d="M503 297.8 L513.6 294 M501.6 298.6 L503.4 301" fill="none" stroke="#000" stroke-width="1.3" />
<path d="M507 295 L511.2 293.4 L511.8 294.8 L507.6 296.4 Z" fill="#1a1a1a" stroke="none" stroke-width="1" />
<path d="M505 299 L509 298.6 L509 300.2 L505 300.4 Z" fill="#1a1a1a" stroke="none" stroke-width="1" />
<path d="M516 290.2 L519.6 288.2 L523.4 288.4 L524.2 285.2 L529.4 284.8 L530.2 288.2 L532.2 289 L532.6 288.6 L537 289.4 L537.6 294.6 L534.6 296.4 L536.6 299 L531 301.8 L527 300.4 L523.6 301.6 L519.4 300.4 L517.4 297.4 L515.6 294.2 Z" fill="#151515" stroke="#000" stroke-width="0.8" />
<path d="M525.2 286.2 L528.4 286 L528.6 287.4 L525.4 287.6 Z" fill="#fff" stroke="none" stroke-width="1" />
<path d="M533.4 290.4 L536 290.6 L536.2 292 L533.6 291.8 Z" fill="#fff" stroke="none" stroke-width="1" />
<path d="M519.4 291.6 L523 290.2 L523.6 291.4 L520 292.8 Z" fill="#fff" stroke="none" stroke-width="1" />
<path d="M522.4 294.4 L526.4 292.2 L528.4 294.6 L524.4 296.8 Z" fill="#fff" stroke="none" stroke-width="1" />
<path d="M528.6 296.6 L531.6 295 L533 297 L530 298.6 Z" fill="#fff" stroke="none" stroke-width="1" />
<path d="M519.2 297 L521.6 296.2 L522.6 298.4 L520.2 299.2 Z" fill="#fff" stroke="none" stroke-width="1" />
<path d="M530.4 290.6 L531.6 290.4 L531.8 293.4 L530.6 293.6 Z" fill="#fff" stroke="none" stroke-width="1" />
<path d="M509.5 301.3 L504.8 313.6 L512 303.9" fill="none" stroke="#000" stroke-width="0.9" />
<line x1="541" y1="295.3" x2="536.8" y2="295.3" stroke="#000" stroke-width="0.9" />
<path d="M487.1 329.8 L491 338.8 L491 356.6 L488.4 356 Z" fill="#fff" stroke="#000" stroke-width="1.0" />
<path d="M487.1 329.8 L522.8 316.5 L523.4 320.3 L538.7 328 L534.9 330.5 L508.8 335 L491 338.8 Z" fill="#fff" stroke="#000" stroke-width="1.0" />
<path d="M487.6 331.6 L522.6 318.6" fill="none" stroke="#000" stroke-width="2.0" />
<path d="M494 333 L519 323 L523.4 325.5 M496 336.5 L519 327.6 L531 329.4" fill="none" stroke="#000" stroke-width="0.7" />
<ellipse cx="512.6" cy="329.2" rx="4.8" ry="1.7" fill="#fff" stroke="#000" stroke-width="0.8" transform="rotate(-14 512.6 329.2)"/>
<path d="M519 326 L530 324.5 L533 328 L522 331.4 Z" fill="#fff" stroke="#000" stroke-width="0.7" />
<path d="M505.5 334.4 Q508 331 512 332.6" fill="none" stroke="#000" stroke-width="0.7" />
<circle cx="517.8" cy="335.6" r="1" fill="#fff" stroke="#000" stroke-width="0.6"/>
<circle cx="529.8" cy="332.6" r="1" fill="#fff" stroke="#000" stroke-width="0.6"/>
<path d="M491 338.8 L508.8 335 L509.4 354 L491 356.6 Z" fill="#fff" stroke="#000" stroke-width="1.2" />
<path d="M492.9 340.4 L505.6 338.6 L505.8 351 L493.5 352.9 Z" fill="#fff" stroke="#000" stroke-width="1.8" />
<line x1="498.8" y1="339.8" x2="499.2" y2="351.8" stroke="#000" stroke-width="1.5" />
<line x1="493.2" y1="346.4" x2="505.7" y2="344.6" stroke="#000" stroke-width="1.5" />
<path d="M495.5 350.2 L498 348.8" fill="none" stroke="#000" stroke-width="0.8" />
<path d="M508.8 335 L534.9 330.5 L534.2 344.5 L526 349 L509.4 354 Z" fill="#fff" stroke="#000" stroke-width="1.1" />
<line x1="512.6" y1="340.6" x2="512.6" y2="349.4" stroke="#000" stroke-width="1.6" />
<line x1="515.6" y1="338.2" x2="515.6" y2="348.4" stroke="#000" stroke-width="1.6" />
<line x1="520.8" y1="339.4" x2="520.8" y2="344.4" stroke="#000" stroke-width="1.1" />
<line x1="524" y1="338.8" x2="524" y2="343.8" stroke="#000" stroke-width="1.1" />
<line x1="527.2" y1="338" x2="527.2" y2="343" stroke="#000" stroke-width="1.1" />
<line x1="531" y1="337" x2="531" y2="342.2" stroke="#000" stroke-width="1.1" />
<line x1="510.8" y1="342" x2="510.8" y2="350.4" stroke="#000" stroke-width="0.6" />
<path d="M480.7 317.6 L488.6 317.1 L489 320.6 L481 321.2 Z" fill="#222" stroke="#000" stroke-width="0.9" />
<path d="M482.2 318.4 L485 318.2 L485.2 319.8 L482.4 320 Z" fill="#fff" stroke="none" stroke-width="1" />
<path d="M489 318.9 Q496 319.6 502.4 317.1" fill="none" stroke="#000" stroke-width="2.0" />
<path d="M489 318.9 Q496 319.6 502.4 317.1" fill="none" stroke="#fff" stroke-width="0.7" />
<circle cx="487.1" cy="329.8" r="1" fill="#000" stroke="none" stroke-width="1"/>
<line x1="547.4" y1="324" x2="539.3" y2="327.7" stroke="#000" stroke-width="0.9" />
<path d="M537.5 327.7 L539.3 326.5 L541 327.7 L539.3 329 Z" fill="#000" stroke="none" stroke-width="1" />
<line x1="539.3" y1="327.7" x2="529.8" y2="332.4" stroke="#000" stroke-width="0.9" />
<line x1="543.2" y1="348.4" x2="534.9" y2="349.6" stroke="#000" stroke-width="0.9" />
<circle cx="534.9" cy="349.6" r="1.2" fill="#000" stroke="none" stroke-width="1"/>
<line x1="534.9" y1="349.6" x2="521.5" y2="343.9" stroke="#000" stroke-width="0.9" />
<path d="M517.7 346.4 L525.3 350.2 L519 354 L527 358" fill="none" stroke="#000" stroke-width="0.9" />
<path d="M526.6 357.9 L530.4 359.8" fill="none" stroke="#000" stroke-width="2.0" />
<line x1="531" y1="360" x2="538.7" y2="360.5" stroke="#000" stroke-width="0.9" />
<line x1="503.6" y1="314" x2="503.6" y2="333.7" stroke="#000" stroke-width="1.1" />
<!-- 55_51_55.py -->
<path d="M441.5 405.1 L454.3 400.7 L466 396.5 Q470 395 475 395.4 L488 397.4 L497 399.1" fill="none" stroke="#000" stroke-width="0.6" />
<path d="M441.5 406.4 L454.3 402 L466 397.8 Q470 396.3 475 396.7 L488 398.7 L497 400.1" fill="none" stroke="#000" stroke-width="0.6" />
<path d="M441.5 407.7 L454.3 403.3 L466 399.1 Q470 397.6 475 398 L488 400 L497 401.2" fill="none" stroke="#000" stroke-width="0.6" />
<path d="M441.5 409 L454.3 404.6 L466 400.4 Q470 398.9 475 399.3 L488 401.3 L497 402.2" fill="none" stroke="#000" stroke-width="0.6" />
<path d="M435.8 405.2 L438.2 406 L443.4 410.6 L438.2 413.4 L435.8 413.2 Z" fill="#fff" stroke="#000" stroke-width="1.0" />
<path d="M437.4 408 L440.6 410.6 L437.4 411.8 Z" fill="#fff" stroke="#000" stroke-width="0.6" />
<circle cx="440.4" cy="404.4" r="0.9" fill="#000" stroke="none" stroke-width="1"/>
<line x1="432" y1="404.6" x2="453" y2="413.2" stroke="#000" stroke-width="0.9" />
<circle cx="453.2" cy="413.2" r="1.4" fill="#000" stroke="none" stroke-width="1"/>
<line x1="452.6" y1="414" x2="448.6" y2="420.2" stroke="#000" stroke-width="0.9" />
<path d="M499.8 391.5 L503.5 388.5 L508.4 389 L510.8 394.6 L511.5 405.7 L508.4 408.8 L502.2 405.7 L496.7 402 L496.7 395.8 Z" fill="#fff" stroke="#000" stroke-width="1.0" />
<path d="M496.7 396.2 L503 394.2 L508 401.6 L502.6 404.8 L496.9 401.6 Z" fill="#222" stroke="#000" stroke-width="0.8" />
<path d="M499 397.6 L501.6 396.8 L502.8 398.8 L500.2 399.6 Z" fill="#fff" stroke="none" stroke-width="1" />
<path d="M502 400.8 L504.6 400 L505.4 402 L503 402.8 Z" fill="#fff" stroke="none" stroke-width="1" />
<path d="M505 392 L507.6 394 M506.4 404.4 L509.4 406.4" fill="none" stroke="#000" stroke-width="0.8" />
<line x1="474" y1="390.6" x2="477" y2="397.2" stroke="#000" stroke-width="0.9" />
<line x1="513.9" y1="380.6" x2="518.2" y2="386" stroke="#000" stroke-width="0.9" />
<line x1="518.2" y1="384.8" x2="518.4" y2="387.6" stroke="#000" stroke-width="1.0" />
<line x1="518.2" y1="386" x2="508.6" y2="389.6" stroke="#000" stroke-width="0.8" />
<path d="M528 377.4 L533.6 376.8 L536 379.8 L536 398.3 L532.4 400.2 L528 396.5 L523.2 395.2 L522.5 389 L526.2 386 L527.3 380 Z" fill="#1c1c1c" stroke="#000" stroke-width="1.0" />
<path d="M529.4 379 L532.6 378.6 L533 381 L529.8 381.4 Z" fill="#fff" stroke="none" stroke-width="1" />
<path d="M530 384.6 L533.4 384 L533.8 387 L530.4 387.6 Z" fill="#fff" stroke="none" stroke-width="1" />
<path d="M524.6 389.6 L528 388.8 L528.4 392.6 L525 393.4 Z" fill="#fff" stroke="none" stroke-width="1" />
<path d="M530.4 391 L534 390.4 L534.2 394 L530.6 394.6 Z" fill="#fff" stroke="none" stroke-width="1" />
<path d="M531 396 L534 395.6 L534 398 L532 398.6 Z" fill="#fff" stroke="none" stroke-width="1" />
<path d="M542.8 380.5 L545.9 381 L546.3 388.5 L542.8 386.6 Z" fill="#fff" stroke="#000" stroke-width="0.7" />
<path d="M536 394 L551.5 393.6 L546.3 388.5" fill="none" stroke="#000" stroke-width="0.9" />
<path d="M406.8 394.8 L412.4 392.9 L414.2 396 L414.2 401.5 L408.7 404 L406.8 402.2 Z" fill="#fff" stroke="#000" stroke-width="1.1" />
<path d="M408.4 396.6 L411.6 395.6 L412.4 400 L409 401.4 Z" fill="#222" stroke="#000" stroke-width="0.6" />
<path d="M414.2 400.3 L421 400.3 L424 403.4 L423.5 407.7 L419.2 409.5 L416 406.5 Z" fill="#fff" stroke="#000" stroke-width="1.1" />
<path d="M416.6 402 L419.4 402 L420 405 L417.6 405.6 Z" fill="#222" stroke="none" stroke-width="1" />
<circle cx="419.3" cy="408.6" r="1.2" fill="#000" stroke="none" stroke-width="1"/>
<circle cx="422.6" cy="404.2" r="0.8" fill="#000" stroke="none" stroke-width="1"/>
<line x1="425.3" y1="394.4" x2="422.2" y2="402.2" stroke="#000" stroke-width="0.9" />
<!-- 56_61_73.py -->
<path d="M379.8 437.2 L384.2 438.5 L390.3 455 L395.4 456" fill="none" stroke="#000" stroke-width="1.6" />
<path d="M388.5 456.6 L393.5 455 L396.2 456.8 L392.8 459 L389.2 458.6 Z" fill="#fff" stroke="#000" stroke-width="1.0" />
<path d="M386 447 L388.6 456" fill="none" stroke="#000" stroke-width="0.8" />
<path d="M354.6 468.6 L360.4 446.4 L361.8 444.6 L379.8 437.2 L381 438 L381.8 462.2 L384.8 462.5 L364.5 471.3 Z" fill="#fff" stroke="#000" stroke-width="1.0" />
<path d="M354.8 468.4 L360.4 446.6 Q360.9 445 362.4 444.4 L380 437.4" fill="none" stroke="#000" stroke-width="2.0" />
<path d="M357 467.5 L362.3 447.6 Q362.8 446.4 364 445.9 L380 439.6" fill="none" stroke="#000" stroke-width="0.7" />
<path d="M354.6 468.6 L364.5 471.3 L384.8 462.5" fill="none" stroke="#000" stroke-width="1.5" />
<path d="M357 467.5 L365 469.4 L381.6 462" fill="none" stroke="#000" stroke-width="0.7" />
<ellipse cx="372.6" cy="449.4" rx="1.2" ry="1.6" fill="#fff" stroke="#000" stroke-width="0.7" transform="rotate(20 372.6 449.4)"/>
<path d="M368.4 452.8 L368.6 463 M370 452.6 L370.2 463.6" fill="none" stroke="#000" stroke-width="1.0" />
<path d="M372.8 455 L373 464.4 M375.2 455.4 L375.2 463.6" fill="none" stroke="#000" stroke-width="1.4" />
<path d="M366.5 466.5 L380 461" fill="none" stroke="#000" stroke-width="1.0" />
<circle cx="377.6" cy="443" r="0.6" fill="#000" stroke="none" stroke-width="1"/>
<circle cx="361.5" cy="470" r="0.5" fill="#000" stroke="none" stroke-width="1"/>
<circle cx="366" cy="465.5" r="0.5" fill="#000" stroke="none" stroke-width="1"/>
<path d="M352.2 452.8 L355.6 452 L355.8 458.2 L352.8 459.6 Z" fill="#fff" stroke="#000" stroke-width="1.0" />
<line x1="353.8" y1="453.4" x2="354" y2="458.4" stroke="#000" stroke-width="0.6" />
<line x1="345.4" y1="452.6" x2="352.2" y2="454.5" stroke="#000" stroke-width="0.9" />
<line x1="381.7" y1="429.8" x2="381.7" y2="470.5" stroke="#000" stroke-width="1.0" />
<ellipse cx="381.5" cy="429.7" rx="2" ry="1.2" fill="#000"/>
<line x1="374.9" y1="429.5" x2="380" y2="429.7" stroke="#000" stroke-width="0.9" />
<line x1="116.3" y1="405" x2="110.9" y2="413.1" stroke="#000" stroke-width="0.9" />
<line x1="108.2" y1="412.6" x2="113" y2="413.1" stroke="#000" stroke-width="0.9" />
<line x1="111" y1="413.4" x2="119.5" y2="416.3" stroke="#000" stroke-width="0.9" />
<line x1="119.4" y1="415" x2="119.6" y2="417.4" stroke="#000" stroke-width="0.9" />
<path d="M119.6 420.4 Q117 421.5 115.6 424.5 L112.5 429.3 L109.3 432.6" fill="none" stroke="#000" stroke-width="2.4" />
<path d="M119.6 420.4 Q117 421.5 115.6 424.5 L112.5 429.3 L109.3 432.6" fill="none" stroke="#fff" stroke-width="1.0" />
<ellipse cx="120.2" cy="421.2" rx="1.6" ry="2.1" fill="#fff" stroke="#000" stroke-width="0.9"/>
<line x1="128.2" y1="421.4" x2="122.2" y2="421.6" stroke="#000" stroke-width="0.9" />
<line x1="100.1" y1="424.4" x2="107.1" y2="427.1" stroke="#000" stroke-width="0.9" />
<line x1="107.7" y1="424.4" x2="107.7" y2="440.6" stroke="#000" stroke-width="1.0" />
<line x1="106.4" y1="427.2" x2="109" y2="427.2" stroke="#000" stroke-width="0.9" />
<path d="M133.5 434.1 L136.8 436.8 L143.8 433.6" fill="none" stroke="#000" stroke-width="0.9" />
<path d="M133.4 434 L135.4 435.7" fill="none" stroke="#000" stroke-width="1.6" />
<line x1="86" y1="443.8" x2="94.6" y2="444.4" stroke="#000" stroke-width="0.9" />
<path d="M94.2 444.4 L95.8 442.8 L97.4 444.4 L95.8 446 Z" fill="#000" stroke="none" stroke-width="1" />
<path d="M95.8 444.4 L95.8 455.2 L100.1 455.8" fill="none" stroke="#000" stroke-width="0.9" />
<path d="M100.2 446 L107 447.6 L107.2 457.2 L100.4 455.4 Z" fill="#fff" stroke="#000" stroke-width="1.1" />
<path d="M107 447.6 L115.8 444.6 L115.8 453.6 L107.2 457.2 Z" fill="#fff" stroke="#000" stroke-width="1.1" />
<path d="M100.2 446 L101.6 441.4 L105 440.2 L113 441.6 L115.8 444.6 L107 447.6 Z" fill="#1a1a1a" stroke="#000" stroke-width="1.0" />
<path d="M103 442.6 L105 442 L105.4 444 L103.4 444.6 Z" fill="#fff" stroke="none" stroke-width="1" />
<path d="M108 443.4 L110 442.8 L110.4 444.8 L108.4 445.4 Z" fill="#fff" stroke="none" stroke-width="1" />
<path d="M101.4 448.4 L103.2 448.8 L103.2 453.4 L101.4 453 Z" fill="#fff" stroke="#000" stroke-width="0.6" />
<path d="M109 450 L113.6 448.4 L113.6 451.8 L109 453.6 Z" fill="#fff" stroke="#000" stroke-width="0.6" />
<line x1="102" y1="456" x2="106.5" y2="458.6" stroke="#000" stroke-width="1.4" />
<path d="M113.6 444.6 Q115 439.6 119 438.2 Q124 436.6 130.2 439.4" fill="none" stroke="#000" stroke-width="2.2" />
<path d="M113.6 444.6 Q115 439.6 119 438.2 Q124 436.6 130.2 439.4" fill="none" stroke="#fff" stroke-width="0.7" />
<path d="M129.6 438.2 L135.4 440.8 L134.4 443 L128.8 440.4 Z" fill="#222" stroke="#000" stroke-width="0.7" />
<line x1="136.8" y1="452" x2="115.7" y2="452.5" stroke="#000" stroke-width="0.9" />
<line x1="116.6" y1="464" x2="116.6" y2="474.2" stroke="#000" stroke-width="1.1" />
<ellipse cx="116.6" cy="464" rx="1.9" ry="1.2" fill="#000"/>
<line x1="118.2" y1="464.4" x2="127.6" y2="466.3" stroke="#000" stroke-width="0.9" />
<path d="M114.2 475.4 L118.8 475.6 L119 477.4 L114.4 477.2 Z" fill="#000" stroke="#000" stroke-width="0.8" />
<path d="M110.4 474.4 L113.6 474.8 L113.6 476.6 L110.4 476.2 Z" fill="#222" stroke="#000" stroke-width="0.6" />
<line x1="119.4" y1="476.2" x2="128.1" y2="476.6" stroke="#000" stroke-width="0.9" />
<path d="M103.6 464.3 L99.2 471.7 M104.6 464.8 L108.5 466.3 L109.5 473.6 L114.4 475" fill="none" stroke="#000" stroke-width="1.2" />
<path d="M104.2 465.4 L102.8 469.6" fill="none" stroke="#000" stroke-width="2.2" />
<path d="M97 471 Q94 476 96 480 Q99 484.6 105 484 Q108 483.4 110 481" fill="none" stroke="#000" stroke-width="2.6" stroke-dasharray="1.6 0.9" style="stroke-linecap:butt"/>
<path d="M99.5 476 Q101 479.6 105 480.6 L108.8 479.6" fill="none" stroke="#000" stroke-width="1.6" stroke-dasharray="1.4 0.9" style="stroke-linecap:butt"/>
<circle cx="96.8" cy="471.6" r="1.5" fill="#000" stroke="none" stroke-width="1"/>
<line x1="96.3" y1="472.6" x2="120.3" y2="483.4" stroke="#000" stroke-width="1.1" />
<ellipse cx="119.9" cy="483.3" rx="1.7" ry="1.5" fill="#000"/>
<line x1="120" y1="483.4" x2="124.4" y2="485" stroke="#000" stroke-width="0.9" />
<line x1="119.4" y1="484.2" x2="114.9" y2="489.4" stroke="#000" stroke-width="0.9" />
<line x1="103.2" y1="457.6" x2="103.8" y2="464" stroke="#000" stroke-width="0.8" />
<!-- 57_top_right.py -->
<path d="M422.8 25.1 L430.7 21.2 L435.4 18.8 L454.2 19.6 L462 23.5 L472.2 29 L475.3 36 L477.7 51.7 L476.1 54.9 L473 50.2 L473.8 47 L472.2 39.2 L466.7 34.5 L455.8 29 L438.5 26.6 L432.2 29 L423.6 30.6 Z" fill="#fff" stroke="#000" stroke-width="1.1" />
<path d="M430.7 21.2 L433 23 L454 23.4 L461 26.6 L470 31.4 L473.4 37 L475.6 50" fill="none" stroke="#000" stroke-width="0.8" />
<path d="M436 18.9 L454 19.7 L462 23.6 L472 29.2" fill="none" stroke="#000" stroke-width="1.6" />
<path d="M442.4 23.8 L453.6 24.2 L454.6 26.4 L443 25.8 Z" fill="#333" stroke="#000" stroke-width="0.7" />
<path d="M461.6 27.6 L470 32 L470.6 34.6 L462.4 30.2 Z" fill="#333" stroke="#000" stroke-width="0.7" />
<path d="M426 26 L426.6 30 M429 24.6 L429.6 29.4 M432.6 23.4 L433.4 28.6" fill="none" stroke="#000" stroke-width="1.0" />
<path d="M474 38 Q476.4 44 476 52" fill="none" stroke="#000" stroke-width="1.6" />
<line x1="431.5" y1="10.7" x2="431.5" y2="18.4" stroke="#000" stroke-width="1.0" />
<line x1="444.8" y1="11.3" x2="430.5" y2="12.2" stroke="#000" stroke-width="0.9" />
<path d="M429.6 18.4 L433.6 18.4 L434.6 21 L428.8 21.4 Z" fill="#fff" stroke="#000" stroke-width="0.8" />
<line x1="488.7" y1="10.2" x2="471" y2="18.3" stroke="#000" stroke-width="0.9" />
<circle cx="471" cy="18.3" r="1.3" fill="#000" stroke="none" stroke-width="1"/>
<line x1="471" y1="18.3" x2="460.5" y2="23.2" stroke="#000" stroke-width="0.9" />
<path d="M479.3 21.2 L488.4 23.8 L487.9 28 L479.6 25.2 Z" fill="#ddd" stroke="#222" stroke-width="0.8" />
<line x1="497.3" y1="20.4" x2="488.7" y2="24.3" stroke="#000" stroke-width="0.9" />
<line x1="491" y1="46.2" x2="484" y2="47.5" stroke="#000" stroke-width="0.9" />
<circle cx="484" cy="47.5" r="1.4" fill="#000" stroke="none" stroke-width="1"/>
<line x1="484" y1="47.5" x2="468.3" y2="47.8" stroke="#000" stroke-width="0.9" />
<line x1="482.4" y1="65" x2="475.3" y2="50.2" stroke="#000" stroke-width="0.9" />
<line x1="214" y1="72" x2="230.5" y2="97.5" stroke="#000" stroke-width="0.9" />
<line x1="270" y1="56.4" x2="281.5" y2="64.4" stroke="#000" stroke-width="0.9" />
<path d="M281 64.2 L285.4 64.2 L285.4 66.6 L281 66.6 Z" fill="#000" stroke="none" stroke-width="1" />
<line x1="283.2" y1="66" x2="283.2" y2="162" stroke="#000" stroke-width="1.0" />
<path d="M345.2 39.1 L356.3 35.2 L359.8 36.6 L349.4 40.7 Z" fill="#fafafa" stroke="#333" stroke-width="0.8" />
<line x1="342.4" y1="32.4" x2="349.4" y2="38" stroke="#000" stroke-width="0.9" />
<line x1="354.4" y1="40" x2="354.4" y2="85.6" stroke="#666" stroke-width="2.6" />
<line x1="354.4" y1="40" x2="354.4" y2="85.6" stroke="#ddd" stroke-width="0.9" />
<path d="M362 23.6 L371 19.6 L399 30 L390 35 Z" fill="#fafafa" stroke="#333" stroke-width="0.8" />
<line x1="399" y1="30" x2="407" y2="28" stroke="#000" stroke-width="0.9" />
<line x1="380.4" y1="33" x2="380.4" y2="47.6" stroke="#666" stroke-width="2.4" />
<line x1="380.4" y1="33" x2="380.4" y2="47.6" stroke="#ddd" stroke-width="0.8" />
<line x1="380" y1="68" x2="380" y2="96" stroke="#444" stroke-width="1.0" />
<line x1="185.4" y1="121.6" x2="190" y2="131" stroke="#000" stroke-width="0.9" />
<circle cx="190.3" cy="132" r="1.5" fill="#000" stroke="none" stroke-width="1"/>
<line x1="190.3" y1="132" x2="210" y2="126.4" stroke="#000" stroke-width="1.0" />
<line x1="432.6" y1="68.2" x2="419" y2="73.3" stroke="#000" stroke-width="0.9" />
<circle cx="418" cy="73.7" r="1.6" fill="#000" stroke="none" stroke-width="1"/>
<path d="M418 74 L418 83 L380 68.4" fill="none" stroke="#000" stroke-width="0.9" />
<!-- 90_labels.py -->
<text x="212" y="69.8">1</text>
<text x="264.8" y="56.6">2</text>
<text x="340" y="31.1">3</text>
<text x="410" y="28.7">4</text>
<text x="184" y="118.8">5</text>
<text x="315" y="153.8">10</text>
<text x="344" y="155.8">11</text>
<text x="386.8" y="132.7">12</text>
<text x="398.8" y="154.8">13</text>
<text x="396.8" y="176.8">14</text>
<text x="351.2" y="182.7">15</text>
<text x="424" y="150.8">16</text>
<text x="469.2" y="174.7">17</text>
<text x="469.2" y="189.8">18</text>
<text x="466" y="211.8">19</text>
<text x="452.8" y="223">20</text>
<text x="311.2" y="224.7">21</text>
<text x="270" y="231.8">22</text>
<text x="84" y="305.9">23</text>
<text x="100.8" y="301.9">24</text>
<text x="15.2" y="337.9">25</text>
<text x="176" y="336.4">26</text>
<text x="225.2" y="314.2">27</text>
<text x="264" y="295.9">28</text>
<text x="157.2" y="387.1">29</text>
<text x="282.7" y="349.9">30</text>
<text x="324" y="315.9">31</text>
<text x="337.2" y="279.9">32</text>
<text x="357.2" y="269.1">33</text>
<text x="386.8" y="251.8">34</text>
<text x="404.8" y="251.8">35</text>
<text x="351.2" y="251.8">36</text>
<text x="441.2" y="289.9">37</text>
<text x="418.8" y="265.9">38</text>
<text x="396" y="297.1">39</text>
<text x="423.2" y="313.9">40</text>
<text x="421.2" y="331.1">41</text>
<text x="390" y="329.1">42</text>
<text x="496" y="237">43</text>
<text x="551.2" y="224.7">44</text>
<text x="487.2" y="292.7">45</text>
<text x="541.2" y="279.9">46</text>
<text x="549.2" y="298.7">47</text>
<text x="553.2" y="326.7">48</text>
<text x="549.2" y="351.5">49</text>
<text x="546" y="367.1">50</text>
<text x="558" y="401.9">51</text>
<text x="510.8" y="377.9">52</text>
<text x="472.8" y="388.7">53</text>
<text x="443.6" y="428.9">54</text>
<text x="430" y="393.1">55</text>
<text x="468.8" y="365.1">56</text>
<text x="432.8" y="349.9">57</text>
<text x="388" y="415.9">58</text>
<text x="538" y="455.9">59</text>
<text x="490" y="485.9">60</text>
<text x="367.2" y="432.7">61</text>
<text x="338" y="455.9">62</text>
<text x="313.2" y="443.1">63</text>
<text x="294" y="479.9">64</text>
<text x="171.2" y="423.1">65</text>
<text x="110" y="499.1">66</text>
<text x="136" y="482.7">67</text>
<text x="134" y="471.9">68</text>
<text x="143.2" y="454.7">69</text>
<text x="135.2" y="425.9">70</text>
<text x="118.8" y="399.9">71</text>
<text x="91.2" y="425.1">72</text>
<text x="78.8" y="447.1">73</text>
<text x="438" y="68.6">5</text>
<text x="450.8" y="12.7">6</text>
<text x="494.8" y="47.9">6</text>
<text x="484" y="76.6">7</text>
<text x="493.2" y="11.1">8</text>
<text x="502" y="22.7">9</text>
<text x="151.2" y="435.1">36</text>
</svg>
</body></html>
